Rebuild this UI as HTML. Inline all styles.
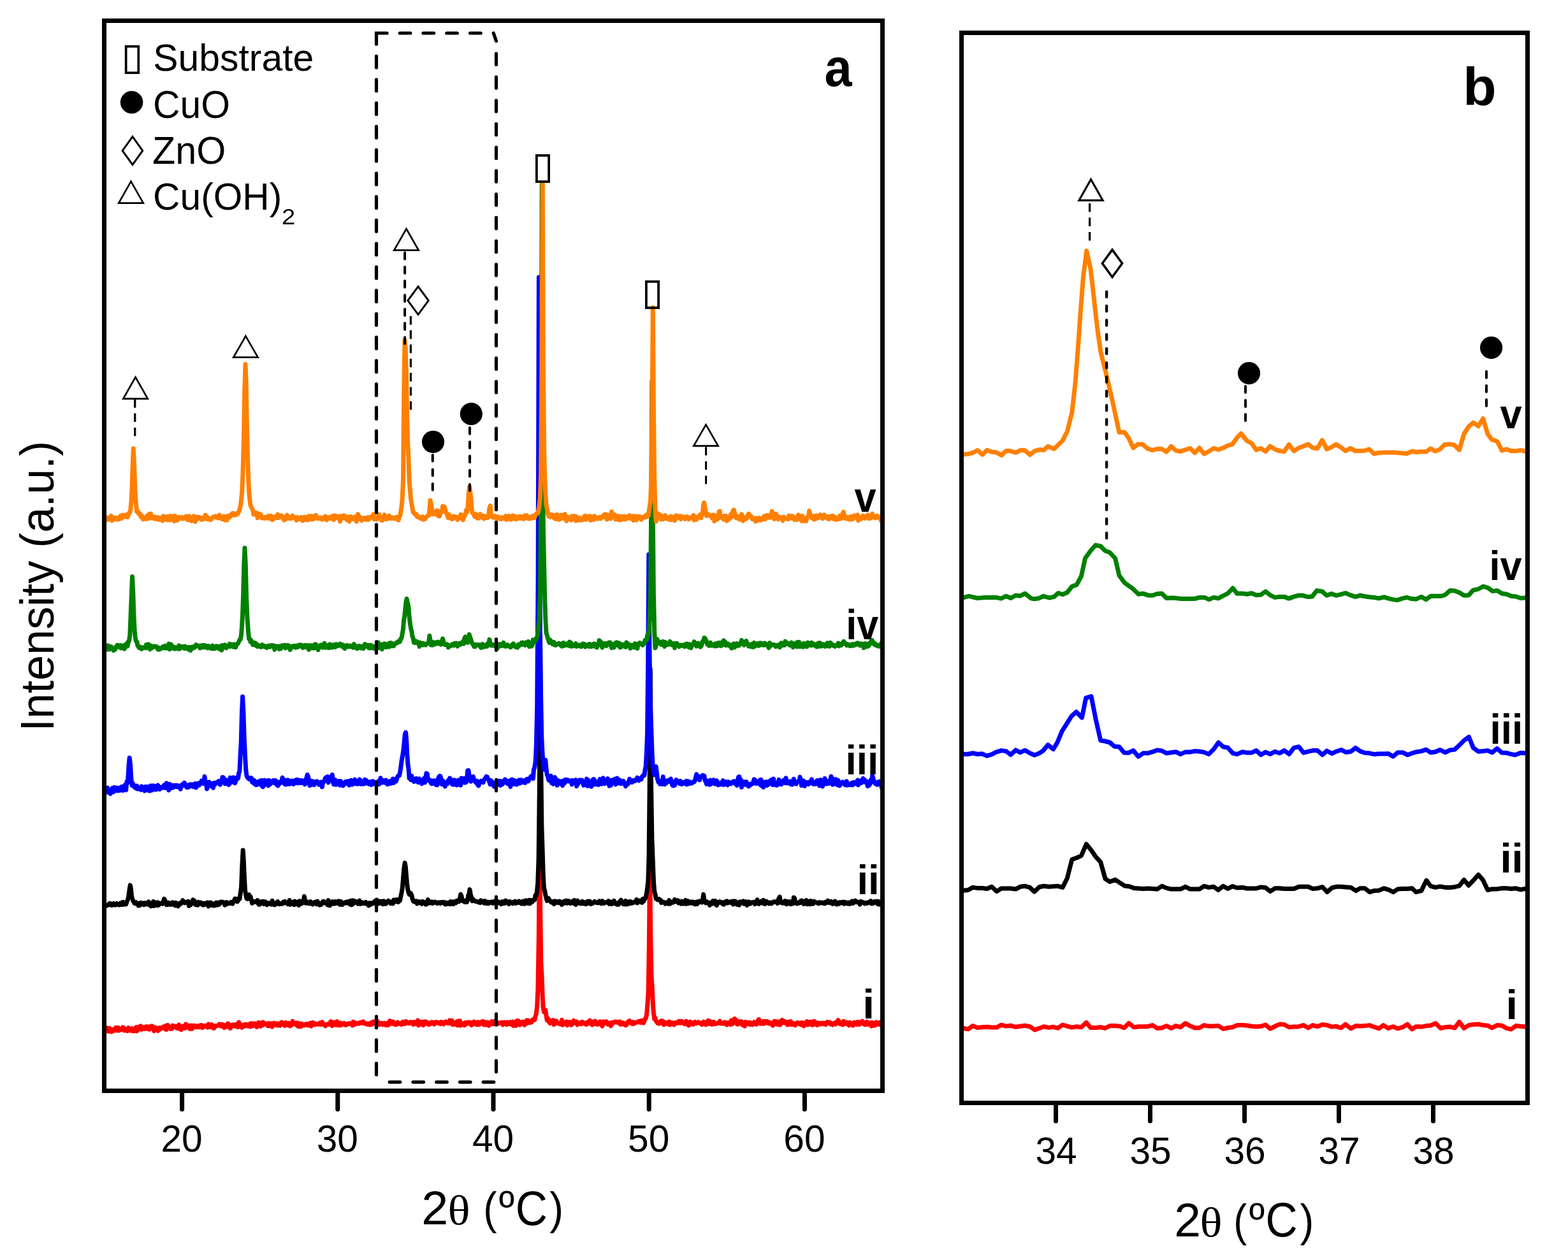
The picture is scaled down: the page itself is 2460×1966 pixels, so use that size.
<!DOCTYPE html>
<html lang="en">
<head>
<meta charset="utf-8">
<title>XRD patterns</title>
<style>
html,body{margin:0;padding:0;background:#fff;}
body{width:2460px;height:1966px;overflow:hidden;}
svg{display:block;}
text{font-family:"Liberation Sans", Arial, Helvetica, sans-serif;fill:#000;}
.b{font-weight:700;}
.s{font-family:"Liberation Serif", "DejaVu Serif", serif;}
</style>
</head>
<body>
<svg xmlns="http://www.w3.org/2000/svg" width="2460" height="1966" viewBox="0 0 2460 1966">
<rect x="0" y="0" width="2460" height="1966" fill="#fff"/>
<g id="panel-a-curves">
<path d="M163.5 1617.1L164.7 1610.9L165.9 1615.0L167.2 1618.1L168.4 1613.2L169.6 1615.5L170.8 1618.1L172.0 1613.2L173.3 1616.7L174.5 1618.7L175.7 1616.0L176.9 1618.1L178.2 1614.9L179.4 1614.3L180.6 1615.9L181.8 1612.4L183.0 1617.0L184.3 1615.0L185.5 1612.5L186.7 1616.9L187.9 1616.0L189.1 1614.2L190.4 1613.6L191.6 1615.4L192.8 1611.8L194.0 1612.5L195.2 1616.9L196.5 1615.2L197.7 1616.8L198.9 1614.9L200.1 1617.5L201.4 1612.6L202.6 1616.6L203.8 1616.2L205.0 1616.5L206.2 1617.3L207.5 1613.7L208.7 1614.4L209.9 1618.0L211.1 1616.6L212.3 1616.1L213.6 1611.7L214.8 1617.7L216.0 1615.1L217.2 1615.8L218.4 1610.9L219.7 1614.6L220.9 1609.8L222.1 1615.4L223.3 1613.9L224.6 1614.3L225.8 1612.0L227.0 1614.3L228.2 1613.4L229.4 1610.6L230.7 1614.1L231.9 1613.2L233.1 1610.8L234.3 1615.3L235.5 1610.9L236.8 1612.0L238.0 1609.9L239.2 1610.2L240.4 1614.0L241.6 1617.6L242.9 1612.1L244.1 1612.7L245.3 1612.5L246.5 1615.0L247.7 1617.4L249.0 1613.7L250.2 1612.7L251.4 1614.8L252.6 1614.2L253.9 1612.4L255.1 1613.0L256.3 1611.2L257.5 1612.9L258.7 1610.1L260.0 1615.3L261.2 1615.3L262.4 1608.6L263.6 1608.6L264.8 1610.8L266.1 1612.0L267.3 1614.3L268.5 1611.5L269.7 1614.1L270.9 1609.1L272.2 1611.5L273.4 1611.6L274.6 1609.9L275.8 1610.1L277.1 1613.0L278.3 1612.3L279.5 1613.5L280.7 1607.8L281.9 1614.6L283.2 1615.1L284.4 1615.6L285.6 1611.4L286.8 1610.2L288.0 1612.5L289.3 1611.7L290.5 1613.2L291.7 1606.9L292.9 1610.6L294.1 1611.7L295.4 1609.2L296.6 1609.1L297.8 1614.5L299.0 1612.1L300.3 1609.1L301.5 1614.2L302.7 1610.2L303.9 1609.1L305.1 1609.3L306.4 1609.6L307.6 1611.8L308.8 1610.6L310.0 1611.1L311.2 1609.7L312.5 1611.7L313.7 1609.1L314.9 1611.1L316.1 1608.4L317.3 1612.4L318.6 1611.7L319.8 1609.9L321.0 1610.7L322.2 1609.2L323.5 1609.4L324.7 1610.6L325.9 1612.1L327.1 1606.9L328.3 1609.4L329.6 1611.4L330.8 1607.8L332.0 1607.5L333.2 1611.8L334.4 1609.0L335.7 1613.4L336.9 1611.4L338.1 1610.0L339.3 1609.5L340.5 1609.4L341.8 1609.2L343.0 1608.8L344.2 1606.9L345.4 1608.5L346.7 1610.1L347.9 1607.4L349.1 1607.2L350.3 1607.9L351.5 1612.4L352.8 1611.9L354.0 1610.4L355.2 1608.2L356.4 1611.0L357.6 1605.8L358.9 1610.4L360.1 1609.3L361.3 1613.4L362.5 1610.2L363.7 1608.2L365.0 1609.4L366.2 1607.6L367.4 1609.7L368.6 1608.0L369.8 1610.3L371.1 1610.7L372.3 1606.7L373.5 1611.5L374.7 1604.0L376.0 1606.3L377.2 1610.2L378.4 1610.1L379.6 1612.3L380.8 1608.2L382.1 1608.4L383.3 1610.1L384.5 1607.4L385.7 1609.5L386.9 1607.3L388.2 1607.6L389.4 1610.0L390.6 1609.4L391.8 1606.7L393.0 1610.9L394.3 1605.6L395.5 1609.0L396.7 1609.7L397.9 1607.3L399.2 1605.8L400.4 1606.2L401.6 1608.5L402.8 1611.4L404.0 1607.6L405.3 1604.5L406.5 1607.0L407.7 1604.7L408.9 1610.4L410.1 1608.9L411.4 1608.8L412.6 1603.9L413.8 1604.7L415.0 1605.4L416.2 1607.3L417.5 1607.2L418.7 1606.6L419.9 1609.5L421.1 1605.5L422.4 1609.7L423.6 1608.7L424.8 1605.8L426.0 1606.7L427.2 1611.1L428.5 1608.2L429.7 1605.1L430.9 1607.2L432.1 1606.7L433.3 1608.6L434.6 1606.0L435.8 1608.8L437.0 1606.6L438.2 1606.1L439.4 1609.2L440.7 1607.8L441.9 1603.9L443.1 1607.4L444.3 1607.1L445.6 1607.7L446.8 1609.3L448.0 1604.3L449.2 1608.2L450.4 1606.3L451.7 1608.6L452.9 1605.3L454.1 1607.4L455.3 1609.9L456.5 1606.9L457.8 1608.4L459.0 1602.3L460.2 1604.8L461.4 1605.0L462.6 1606.4L463.9 1606.4L465.1 1608.2L466.3 1604.8L467.5 1610.5L468.8 1610.7L470.0 1605.6L471.2 1608.3L472.4 1610.4L473.6 1606.3L474.9 1607.3L476.1 1608.9L477.3 1609.1L478.5 1607.4L479.7 1606.7L481.0 1607.9L482.2 1606.7L483.4 1609.0L484.6 1606.5L485.8 1606.1L487.1 1605.3L488.3 1610.1L489.5 1606.0L490.7 1604.4L491.9 1607.8L493.2 1605.7L494.4 1607.9L495.6 1606.5L496.8 1606.8L498.1 1606.7L499.3 1607.3L500.5 1606.3L501.7 1605.0L502.9 1607.1L504.2 1607.5L505.4 1603.5L506.6 1605.8L507.8 1607.1L509.0 1608.0L510.3 1609.7L511.5 1608.3L512.7 1607.9L513.9 1606.7L515.1 1607.2L516.4 1606.4L517.6 1607.6L518.8 1602.7L520.0 1606.2L521.3 1609.6L522.5 1605.4L523.7 1603.9L524.9 1605.3L526.1 1606.2L527.4 1608.3L528.6 1602.7L529.8 1605.9L531.0 1608.7L532.2 1607.1L533.5 1604.8L534.7 1608.7L535.9 1606.5L537.1 1606.1L538.3 1606.4L539.6 1605.4L540.8 1608.1L542.0 1608.4L543.2 1606.7L544.5 1607.6L545.7 1606.4L546.9 1605.7L548.1 1606.5L549.3 1605.6L550.6 1606.1L551.8 1606.0L553.0 1608.9L554.2 1603.2L555.4 1605.4L556.7 1607.5L557.9 1604.9L559.1 1605.8L560.3 1606.1L561.5 1605.9L562.8 1606.3L564.0 1604.6L565.2 1605.2L566.4 1604.1L567.7 1605.3L568.9 1604.5L570.1 1603.0L571.3 1605.7L572.5 1606.1L573.8 1606.3L575.0 1606.1L576.2 1607.3L577.4 1606.5L578.6 1606.2L579.9 1607.9L581.1 1606.2L582.3 1604.4L583.5 1607.3L584.7 1606.1L586.0 1603.0L587.2 1605.1L588.4 1604.0L589.6 1606.6L590.9 1605.4L592.1 1602.3L593.3 1603.8L594.5 1608.0L595.7 1605.8L597.0 1606.0L598.2 1605.2L599.4 1605.9L600.6 1607.8L601.8 1606.4L603.1 1605.1L604.3 1605.8L605.5 1608.5L606.7 1606.7L607.9 1605.4L609.2 1608.5L610.4 1603.7L611.6 1601.6L612.8 1605.2L614.0 1606.0L615.3 1606.3L616.5 1603.1L617.7 1605.6L618.9 1604.9L620.2 1607.7L621.4 1607.5L622.6 1605.9L623.8 1604.0L625.0 1606.5L626.3 1605.8L627.5 1605.7L628.7 1606.1L629.9 1607.6L631.1 1604.1L632.4 1603.3L633.6 1606.1L634.8 1606.7L636.0 1605.8L637.2 1602.6L638.5 1605.3L639.7 1604.6L640.9 1605.6L642.1 1605.9L643.4 1603.6L644.6 1604.6L645.8 1603.9L647.0 1605.0L648.2 1607.3L649.5 1603.5L650.7 1606.2L651.9 1606.0L653.1 1603.8L654.3 1607.1L655.6 1601.0L656.8 1608.8L658.0 1607.8L659.2 1605.0L660.4 1603.6L661.7 1604.0L662.9 1603.4L664.1 1608.7L665.3 1603.3L666.6 1606.1L667.8 1602.8L669.0 1605.5L670.2 1606.3L671.4 1604.7L672.7 1607.5L673.9 1605.4L675.1 1606.7L676.3 1605.2L677.5 1603.6L678.8 1605.1L680.0 1606.2L681.2 1607.0L682.4 1604.5L683.6 1603.7L684.9 1605.0L686.1 1604.2L687.3 1605.2L688.5 1604.6L689.8 1605.9L691.0 1606.5L692.2 1603.5L693.4 1605.7L694.6 1604.3L695.9 1607.0L697.1 1603.9L698.3 1603.7L699.5 1602.9L700.7 1604.7L702.0 1605.3L703.2 1603.7L704.4 1605.3L705.6 1600.8L706.8 1605.5L708.1 1605.2L709.3 1601.4L710.5 1607.7L711.7 1606.1L713.0 1606.3L714.2 1607.3L715.4 1604.2L716.6 1603.0L717.8 1608.7L719.1 1604.1L720.3 1601.8L721.5 1601.7L722.7 1609.1L723.9 1605.5L725.2 1605.9L726.4 1605.7L727.6 1606.2L728.8 1608.9L730.0 1604.5L731.3 1607.2L732.5 1605.7L733.7 1604.5L734.9 1603.9L736.1 1605.2L737.4 1604.3L738.6 1607.2L739.8 1608.6L741.0 1606.3L742.3 1604.4L743.5 1603.0L744.7 1603.6L745.9 1607.0L747.1 1606.7L748.4 1607.8L749.6 1603.7L750.8 1605.3L752.0 1607.7L753.2 1606.0L754.5 1603.5L755.7 1603.8L756.9 1602.6L758.1 1603.0L759.3 1607.9L760.6 1603.3L761.8 1608.0L763.0 1607.4L764.2 1606.1L765.5 1603.9L766.7 1609.3L767.9 1607.0L769.1 1607.4L770.3 1605.5L771.6 1602.7L772.8 1606.4L774.0 1606.7L775.2 1602.9L776.4 1605.3L777.7 1605.8L778.9 1603.0L780.1 1605.6L781.3 1605.3L782.5 1606.1L783.8 1605.2L785.0 1604.6L786.2 1604.9L787.4 1604.4L788.7 1607.9L789.9 1606.0L791.1 1604.0L792.3 1605.0L793.5 1607.1L794.8 1607.6L796.0 1603.8L797.2 1606.7L798.4 1606.4L799.6 1606.3L800.9 1603.7L802.1 1607.5L803.3 1604.5L804.5 1603.2L805.7 1609.4L807.0 1606.0L808.2 1606.1L809.4 1609.4L810.6 1602.0L811.9 1603.8L813.1 1601.5L814.3 1604.2L815.5 1608.1L816.7 1605.9L818.0 1606.3L819.2 1603.6L820.4 1603.3L821.6 1603.1L822.8 1608.4L824.1 1604.7L825.3 1605.8L826.5 1600.9L827.7 1605.1L828.9 1601.2L830.2 1603.3L831.4 1604.6L832.6 1603.9L833.8 1603.9L835.1 1600.6L836.3 1599.5L837.5 1600.7L838.7 1600.4L839.9 1595.2L841.3 1590.2L842.6 1579.6L843.9 1552.4L845.3 1468.5L846.6 1300.0L847.7 1430.6L848.8 1510.2L849.9 1528.7L851.0 1560.0L852.1 1579.9L853.4 1587.7L854.6 1584.9L855.8 1585.0L857.0 1593.9L858.2 1600.6L859.5 1597.7L860.7 1602.7L861.9 1602.0L863.1 1605.7L864.4 1601.6L865.6 1603.0L866.8 1604.5L868.0 1600.5L869.2 1607.6L870.5 1606.0L871.7 1603.8L872.9 1602.0L874.1 1605.1L875.3 1605.8L876.6 1605.9L877.8 1606.0L879.0 1607.0L880.2 1606.6L881.4 1600.3L882.7 1608.2L883.9 1607.1L885.1 1604.0L886.3 1605.2L887.6 1606.7L888.8 1602.8L890.0 1608.6L891.2 1604.5L892.4 1605.3L893.7 1603.5L894.9 1605.6L896.1 1608.3L897.3 1607.6L898.5 1604.9L899.8 1601.4L901.0 1604.7L902.2 1603.8L903.4 1605.2L904.6 1603.0L905.9 1607.9L907.1 1606.2L908.3 1604.8L909.5 1604.8L910.8 1605.5L912.0 1606.8L913.2 1603.3L914.4 1604.3L915.6 1605.3L916.9 1604.8L918.1 1606.7L919.3 1605.2L920.5 1607.3L921.7 1604.1L923.0 1603.2L924.2 1604.9L925.4 1601.0L926.6 1604.2L927.8 1606.7L929.1 1608.0L930.3 1603.0L931.5 1605.1L932.7 1606.2L934.0 1602.1L935.2 1606.9L936.4 1606.5L937.6 1607.3L938.8 1607.1L940.1 1604.1L941.3 1603.0L942.5 1605.8L943.7 1606.0L944.9 1610.1L946.2 1603.0L947.4 1603.3L948.6 1605.4L949.8 1604.3L951.0 1602.7L952.3 1603.8L953.5 1607.2L954.7 1605.2L955.9 1606.6L957.2 1605.5L958.4 1609.7L959.6 1604.4L960.8 1606.5L962.0 1604.3L963.3 1603.7L964.5 1603.4L965.7 1603.1L966.9 1604.2L968.1 1604.1L969.4 1603.2L970.6 1603.7L971.8 1606.0L973.0 1603.1L974.2 1607.3L975.5 1606.7L976.7 1605.4L977.9 1604.8L979.1 1607.6L980.3 1607.6L981.6 1608.8L982.8 1608.0L984.0 1605.5L985.2 1603.1L986.5 1604.2L987.7 1601.7L988.9 1604.4L990.1 1604.5L991.3 1606.0L992.6 1603.7L993.8 1606.6L995.0 1606.0L996.2 1604.1L997.4 1604.6L998.7 1603.9L999.9 1604.1L1001.1 1603.3L1002.3 1602.3L1003.5 1602.8L1004.8 1604.5L1006.0 1601.5L1007.2 1601.2L1008.4 1602.0L1009.7 1605.0L1010.9 1601.4L1012.1 1598.6L1013.3 1597.6L1014.6 1591.9L1015.8 1576.7L1017.1 1557.5L1018.3 1484.3L1019.6 1350.0L1020.8 1469.2L1022.0 1532.5L1023.2 1548.3L1024.3 1574.9L1025.5 1589.6L1026.7 1598.7L1028.0 1597.3L1029.2 1602.0L1030.4 1603.5L1031.6 1605.4L1032.9 1604.4L1034.1 1606.1L1035.3 1604.3L1036.5 1602.2L1037.7 1601.7L1039.0 1605.5L1040.2 1602.3L1041.4 1607.8L1042.6 1606.5L1043.8 1605.5L1045.1 1604.3L1046.3 1604.9L1047.5 1606.7L1048.7 1605.7L1049.9 1603.2L1051.2 1608.0L1052.4 1605.0L1053.6 1604.3L1054.8 1605.4L1056.1 1605.1L1057.3 1608.0L1058.5 1605.6L1059.7 1604.6L1060.9 1605.4L1062.2 1605.8L1063.4 1603.4L1064.6 1602.4L1065.8 1604.2L1067.0 1605.4L1068.3 1602.3L1069.5 1602.5L1070.7 1604.4L1071.9 1605.5L1073.1 1606.2L1074.4 1603.5L1075.6 1606.7L1076.8 1602.3L1078.0 1604.7L1079.3 1605.0L1080.5 1608.9L1081.7 1606.9L1082.9 1603.1L1084.1 1606.5L1085.4 1604.8L1086.6 1605.4L1087.8 1607.3L1089.0 1604.9L1090.2 1603.4L1091.5 1605.1L1092.7 1605.9L1093.9 1605.3L1095.1 1603.8L1096.3 1604.7L1097.6 1604.9L1098.8 1605.2L1100.0 1606.7L1101.2 1607.4L1102.4 1604.8L1103.7 1603.2L1104.9 1606.1L1106.1 1604.0L1107.3 1607.8L1108.6 1606.0L1109.8 1606.5L1111.0 1601.2L1112.2 1605.0L1113.4 1606.4L1114.7 1602.7L1115.9 1605.0L1117.1 1607.4L1118.3 1606.4L1119.5 1603.3L1120.8 1606.8L1122.0 1606.5L1123.2 1606.5L1124.4 1605.8L1125.6 1605.7L1126.9 1604.7L1128.1 1604.1L1129.3 1602.1L1130.5 1606.0L1131.8 1605.8L1133.0 1605.1L1134.2 1606.0L1135.4 1606.2L1136.6 1603.8L1137.9 1605.1L1139.1 1606.2L1140.3 1608.0L1141.5 1604.7L1142.7 1605.6L1144.0 1604.2L1145.2 1604.2L1146.4 1607.6L1147.6 1600.9L1148.8 1606.9L1150.1 1603.6L1151.3 1602.2L1152.5 1598.3L1153.7 1599.4L1155.0 1604.9L1156.2 1606.8L1157.4 1607.1L1158.6 1602.4L1159.8 1605.3L1161.1 1605.9L1162.3 1606.1L1163.5 1602.7L1164.7 1608.0L1165.9 1607.0L1167.2 1605.2L1168.4 1610.1L1169.6 1603.4L1170.8 1604.9L1172.0 1605.0L1173.3 1606.4L1174.5 1604.2L1175.7 1604.2L1176.9 1607.4L1178.2 1605.0L1179.4 1607.1L1180.6 1607.9L1181.8 1604.9L1183.0 1603.7L1184.3 1604.5L1185.5 1606.3L1186.7 1607.3L1187.9 1605.6L1189.1 1601.3L1190.4 1599.4L1191.6 1601.8L1192.8 1606.2L1194.0 1603.8L1195.2 1605.8L1196.5 1606.1L1197.7 1602.6L1198.9 1606.2L1200.1 1602.3L1201.4 1602.6L1202.6 1603.9L1203.8 1602.7L1205.0 1605.6L1206.2 1606.0L1207.5 1604.3L1208.7 1604.8L1209.9 1606.7L1211.1 1605.9L1212.3 1609.1L1213.6 1607.8L1214.8 1602.2L1216.0 1604.8L1217.2 1603.8L1218.4 1602.9L1219.7 1607.3L1220.9 1605.3L1222.1 1603.2L1223.3 1608.0L1224.5 1607.5L1225.8 1601.9L1227.0 1600.5L1228.2 1601.4L1229.4 1604.7L1230.7 1602.4L1231.9 1604.7L1233.1 1605.8L1234.3 1604.0L1235.5 1608.0L1236.8 1603.6L1238.0 1605.9L1239.2 1605.9L1240.4 1602.5L1241.6 1607.6L1242.9 1605.8L1244.1 1607.3L1245.3 1605.8L1246.5 1606.1L1247.7 1608.7L1249.0 1605.5L1250.2 1606.1L1251.4 1604.5L1252.6 1606.0L1253.9 1605.2L1255.1 1605.4L1256.3 1607.8L1257.5 1604.5L1258.7 1605.5L1260.0 1604.8L1261.2 1609.9L1262.4 1605.4L1263.6 1604.8L1264.8 1605.7L1266.1 1602.7L1267.3 1608.2L1268.5 1603.7L1269.7 1603.9L1270.9 1606.6L1272.2 1603.3L1273.4 1608.0L1274.6 1605.9L1275.8 1608.0L1277.1 1602.2L1278.3 1605.1L1279.5 1606.4L1280.7 1604.1L1281.9 1608.5L1283.2 1605.9L1284.4 1605.0L1285.6 1605.9L1286.8 1607.1L1288.0 1605.5L1289.3 1605.6L1290.5 1605.0L1291.7 1606.5L1292.9 1605.6L1294.1 1605.4L1295.4 1607.7L1296.6 1605.0L1297.8 1603.6L1299.0 1605.1L1300.3 1604.5L1301.5 1603.9L1302.7 1606.7L1303.9 1605.5L1305.1 1605.6L1306.4 1608.0L1307.6 1606.6L1308.8 1605.9L1310.0 1604.7L1311.2 1607.0L1312.5 1603.8L1313.7 1603.7L1314.9 1600.6L1316.1 1602.2L1317.3 1606.1L1318.6 1606.7L1319.8 1605.4L1321.0 1606.2L1322.2 1607.9L1323.5 1602.4L1324.7 1606.0L1325.9 1606.4L1327.1 1606.3L1328.3 1604.2L1329.6 1604.9L1330.8 1605.2L1332.0 1608.9L1333.2 1604.2L1334.4 1607.0L1335.7 1607.5L1336.9 1605.5L1338.1 1609.1L1339.3 1605.2L1340.5 1604.1L1341.8 1604.8L1343.0 1606.0L1344.2 1607.2L1345.4 1603.6L1346.6 1603.8L1347.9 1607.5L1349.1 1606.7L1350.3 1604.4L1351.5 1603.3L1352.8 1602.3L1354.0 1603.7L1355.2 1607.0L1356.4 1604.4L1357.6 1607.8L1358.9 1605.8L1360.1 1603.2L1361.3 1607.4L1362.5 1605.8L1363.7 1605.6L1365.0 1607.0L1366.2 1604.6L1367.4 1610.2L1368.6 1604.5L1369.8 1605.4L1371.1 1605.6L1372.3 1609.1L1373.5 1606.3L1374.7 1603.9L1376.0 1607.5L1377.2 1605.3L1378.4 1605.5L1379.6 1604.4L1380.8 1608.0L1382.1 1606.5L1383.3 1604.6L1384.5 1605.1" fill="none" stroke="#FF0000" stroke-width="7.0" stroke-linejoin="round" stroke-linecap="butt" />
<path d="M163.5 1421.7L164.7 1419.4L165.9 1419.7L167.2 1421.1L168.4 1420.6L169.6 1420.1L170.8 1418.5L172.0 1417.4L173.3 1419.7L174.5 1418.2L175.7 1420.4L176.9 1419.4L178.2 1417.7L179.4 1419.4L180.6 1420.1L181.8 1419.2L183.0 1417.5L184.3 1419.3L185.5 1419.4L186.7 1420.1L187.9 1419.9L189.1 1417.0L190.4 1417.6L191.6 1419.3L192.8 1415.3L194.0 1419.2L195.2 1416.2L196.5 1416.5L197.7 1418.9L199.0 1415.1L200.3 1412.0L201.7 1407.1L203.0 1396.3L204.3 1388.9L205.4 1394.1L206.5 1406.0L207.7 1410.4L208.8 1413.4L209.9 1415.2L211.1 1417.4L212.3 1417.8L213.6 1415.8L214.8 1418.4L216.0 1417.9L217.2 1420.9L218.4 1417.7L219.7 1420.3L220.9 1416.3L222.1 1418.8L223.3 1417.1L224.6 1416.9L225.8 1419.7L227.0 1416.8L228.2 1418.2L229.4 1417.3L230.7 1419.1L231.9 1418.9L233.1 1414.8L234.3 1419.7L235.5 1417.4L236.8 1421.9L238.0 1420.0L239.2 1420.1L240.4 1414.5L241.6 1421.4L242.9 1418.6L244.1 1416.2L245.3 1419.0L246.5 1420.6L247.7 1415.8L249.0 1420.2L250.2 1417.9L251.4 1417.4L252.6 1417.6L253.9 1416.8L255.1 1418.1L256.3 1415.6L257.5 1410.3L258.7 1412.2L260.0 1415.5L261.2 1419.7L262.4 1416.2L263.6 1419.3L264.8 1416.4L266.1 1417.3L267.3 1419.3L268.5 1417.1L269.7 1419.1L270.9 1415.9L272.2 1417.1L273.4 1419.1L274.6 1420.7L275.8 1416.3L277.1 1420.8L278.3 1418.6L279.5 1421.9L280.7 1417.6L281.9 1417.2L283.2 1418.5L284.4 1415.8L285.6 1416.1L286.8 1412.7L288.0 1415.1L289.3 1416.5L290.5 1415.5L291.7 1415.7L292.9 1416.4L294.1 1414.6L295.4 1414.4L296.6 1421.4L297.8 1416.5L299.0 1420.0L300.3 1416.5L301.5 1416.3L302.7 1411.7L303.9 1414.1L305.1 1413.4L306.4 1419.5L307.6 1416.4L308.8 1419.9L310.0 1420.3L311.2 1415.3L312.5 1418.6L313.7 1416.1L314.9 1415.9L316.1 1418.0L317.3 1419.2L318.6 1420.1L319.8 1417.2L321.0 1419.5L322.2 1418.7L323.5 1417.8L324.7 1416.2L325.9 1417.8L327.1 1422.1L328.3 1416.2L329.6 1417.4L330.8 1416.2L332.0 1420.0L333.2 1420.7L334.4 1419.9L335.7 1420.9L336.9 1417.5L338.1 1420.4L339.3 1416.2L340.5 1420.1L341.8 1420.0L343.0 1416.4L344.2 1419.1L345.4 1415.6L346.7 1415.1L347.9 1415.0L349.1 1415.5L350.3 1415.4L351.5 1417.1L352.8 1420.2L354.0 1416.8L355.2 1415.7L356.4 1418.3L357.6 1416.6L358.9 1417.1L360.1 1417.6L361.3 1417.5L362.5 1415.5L363.7 1416.1L365.0 1417.9L366.2 1415.0L367.4 1413.1L368.6 1410.1L369.8 1410.2L371.1 1412.1L372.3 1414.7L373.5 1413.2L374.7 1409.6L376.0 1410.2L377.3 1401.2L378.6 1391.6L379.9 1357.7L381.2 1334.0L382.3 1351.3L383.5 1379.1L384.6 1397.2L385.8 1404.5L386.9 1409.9L388.2 1410.5L389.4 1408.3L390.6 1403.7L391.8 1407.8L393.0 1406.9L394.3 1412.3L395.5 1417.3L396.7 1415.8L397.9 1415.7L399.2 1414.5L400.4 1414.7L401.6 1415.1L402.8 1414.0L404.0 1412.6L405.3 1418.3L406.5 1419.4L407.7 1415.6L408.9 1418.0L410.1 1414.6L411.4 1417.3L412.6 1414.4L413.8 1418.3L415.0 1416.9L416.2 1414.7L417.5 1417.8L418.7 1419.7L419.9 1416.9L421.1 1416.8L422.4 1416.9L423.6 1417.1L424.8 1419.0L426.0 1419.1L427.2 1413.3L428.5 1419.0L429.7 1416.6L430.9 1419.8L432.1 1417.7L433.3 1418.6L434.6 1416.0L435.8 1414.6L437.0 1417.3L438.2 1418.6L439.4 1418.2L440.7 1418.3L441.9 1417.3L443.1 1418.1L444.3 1415.5L445.6 1416.7L446.8 1414.3L448.0 1416.8L449.2 1416.4L450.4 1417.0L451.7 1418.7L452.9 1417.0L454.1 1412.5L455.3 1419.2L456.5 1417.2L457.8 1418.2L459.0 1415.5L460.2 1418.3L461.4 1419.5L462.6 1414.1L463.9 1419.0L465.1 1415.3L466.3 1415.5L467.5 1416.8L468.8 1420.4L470.0 1413.7L471.2 1415.7L472.4 1416.8L473.6 1417.7L474.9 1416.0L476.1 1414.3L477.3 1406.5L478.5 1412.1L479.7 1417.1L481.0 1414.6L482.2 1415.3L483.4 1417.4L484.6 1417.3L485.8 1417.7L487.1 1414.7L488.3 1416.1L489.5 1416.0L490.7 1419.1L491.9 1416.6L493.2 1415.9L494.4 1415.2L495.6 1416.8L496.8 1418.8L498.1 1414.1L499.3 1417.0L500.5 1417.7L501.7 1420.2L502.9 1417.9L504.2 1419.1L505.4 1416.8L506.6 1414.4L507.8 1414.3L509.0 1415.5L510.3 1417.0L511.5 1416.3L512.7 1415.9L513.9 1419.8L515.1 1412.6L516.4 1414.9L517.6 1420.8L518.8 1417.2L520.0 1415.6L521.3 1414.8L522.5 1418.1L523.7 1417.9L524.9 1418.1L526.1 1414.5L527.4 1416.9L528.6 1416.3L529.8 1417.4L531.0 1413.9L532.2 1417.7L533.5 1419.3L534.7 1414.3L535.9 1418.2L537.1 1419.5L538.3 1418.2L539.6 1416.6L540.8 1416.9L542.0 1415.7L543.2 1417.0L544.5 1414.8L545.7 1416.7L546.9 1415.2L548.1 1414.1L549.3 1419.2L550.6 1413.4L551.8 1419.7L553.0 1412.8L554.2 1418.2L555.4 1416.9L556.7 1413.8L557.9 1415.7L559.1 1414.8L560.3 1414.9L561.5 1418.1L562.8 1414.5L564.0 1413.2L565.2 1418.5L566.4 1417.2L567.7 1416.5L568.9 1416.0L570.1 1417.7L571.3 1417.1L572.5 1416.3L573.8 1415.5L575.0 1418.3L576.2 1419.0L577.4 1417.3L578.6 1420.9L579.9 1416.8L581.1 1416.8L582.3 1419.0L583.5 1416.9L584.7 1416.9L586.0 1415.8L587.2 1417.2L588.4 1413.5L589.6 1415.1L590.9 1414.5L592.1 1412.6L593.3 1418.2L594.5 1415.7L595.7 1414.8L597.0 1416.9L598.2 1414.1L599.4 1417.8L600.6 1418.6L601.8 1413.7L603.1 1418.2L604.3 1416.4L605.5 1418.0L606.7 1416.4L607.9 1414.5L609.2 1413.2L610.4 1413.9L611.6 1414.9L612.8 1417.5L614.0 1416.7L615.3 1416.0L616.5 1417.9L617.7 1412.0L618.9 1413.0L620.2 1412.8L621.4 1414.6L622.6 1411.3L623.8 1412.7L625.0 1415.4L626.3 1413.8L627.5 1413.2L628.7 1406.9L630.0 1400.7L631.3 1393.5L632.6 1377.1L633.9 1362.2L635.2 1353.9L636.3 1360.0L637.5 1374.0L638.6 1386.6L639.8 1395.7L640.9 1399.8L642.1 1403.4L643.4 1401.0L644.6 1401.6L645.8 1404.9L647.0 1410.0L648.2 1413.7L649.5 1414.8L650.7 1414.2L651.9 1415.5L653.1 1413.8L654.3 1417.8L655.6 1415.4L656.8 1414.7L658.0 1416.5L659.2 1415.2L660.4 1416.1L661.7 1418.2L662.9 1414.3L664.1 1415.3L665.3 1415.5L666.6 1415.9L667.8 1419.1L669.0 1417.5L670.2 1418.2L671.4 1411.6L672.7 1416.8L673.9 1416.5L675.1 1417.0L676.3 1416.1L677.5 1414.9L678.8 1417.3L680.0 1415.7L681.2 1416.1L682.4 1415.1L683.6 1415.7L684.9 1417.0L686.1 1417.5L687.3 1416.0L688.5 1416.2L689.8 1415.8L691.0 1417.6L692.2 1415.4L693.4 1415.6L694.6 1416.3L695.9 1415.4L697.1 1416.6L698.3 1418.9L699.5 1416.1L700.7 1418.6L702.0 1417.7L703.2 1416.4L704.4 1417.3L705.6 1418.6L706.8 1414.6L708.1 1417.3L709.3 1418.2L710.5 1414.8L711.7 1418.3L713.0 1417.1L714.2 1414.6L715.4 1416.7L716.6 1413.3L717.8 1413.5L719.1 1412.7L720.3 1414.6L721.5 1409.8L722.7 1403.2L723.9 1405.5L725.2 1411.9L726.4 1413.8L727.6 1414.1L728.8 1415.2L730.0 1413.1L731.3 1413.4L732.4 1415.5L733.6 1412.4L734.7 1404.8L735.9 1402.8L737.0 1395.6L738.3 1403.3L739.6 1408.2L740.9 1413.6L742.2 1410.6L743.5 1413.2L744.7 1413.8L745.9 1414.3L747.1 1414.1L748.4 1414.5L749.6 1415.4L750.8 1414.7L752.0 1415.5L753.2 1416.4L754.5 1412.8L755.7 1415.5L756.9 1414.2L758.1 1415.7L759.3 1417.0L760.6 1413.6L761.8 1415.3L763.0 1417.5L764.2 1417.8L765.5 1415.1L766.7 1417.5L767.9 1416.5L769.1 1416.1L770.3 1415.1L771.6 1416.5L772.8 1417.2L774.0 1414.9L775.2 1416.8L776.4 1414.0L777.7 1414.0L778.9 1416.9L780.1 1415.6L781.3 1414.6L782.5 1416.6L783.8 1417.2L785.0 1416.1L786.2 1418.5L787.4 1414.8L788.7 1414.9L789.9 1417.5L791.1 1414.3L792.3 1417.2L793.5 1413.2L794.8 1414.3L796.0 1415.6L797.2 1415.2L798.4 1418.5L799.6 1414.3L800.9 1415.8L802.1 1416.1L803.3 1415.7L804.5 1417.8L805.7 1414.9L807.0 1414.9L808.2 1414.1L809.4 1417.3L810.6 1416.2L811.9 1416.2L813.1 1416.0L814.3 1413.8L815.5 1416.5L816.7 1416.1L818.0 1417.9L819.2 1416.2L820.4 1414.1L821.6 1414.8L822.8 1418.3L824.1 1413.1L825.3 1412.8L826.5 1415.3L827.7 1417.2L828.9 1414.7L830.2 1412.4L831.4 1417.8L832.6 1412.4L833.8 1414.7L835.1 1415.1L836.3 1412.1L837.5 1411.9L838.7 1411.9L839.9 1405.0L841.2 1405.0L842.4 1399.1L843.7 1386.0L845.0 1350.0L846.3 1240.7L847.6 1000.0L848.8 1201.9L849.9 1297.5L851.1 1333.9L852.2 1371.5L853.4 1393.7L854.6 1397.3L855.8 1404.4L857.0 1409.2L858.2 1413.3L859.5 1410.4L860.7 1409.5L861.9 1412.1L863.1 1413.5L864.4 1415.4L865.6 1416.2L866.8 1415.7L868.0 1414.6L869.2 1418.4L870.5 1413.9L871.7 1415.2L872.9 1416.3L874.1 1414.5L875.3 1415.1L876.6 1416.6L877.8 1414.1L879.0 1415.3L880.2 1415.4L881.4 1419.5L882.7 1417.1L883.9 1414.7L885.1 1417.1L886.3 1414.1L887.6 1416.6L888.8 1413.2L890.0 1417.2L891.2 1415.7L892.4 1413.8L893.7 1416.7L894.9 1417.4L896.1 1416.7L897.3 1416.4L898.5 1413.9L899.8 1417.4L901.0 1412.5L902.2 1415.1L903.4 1419.4L904.6 1413.8L905.9 1413.1L907.1 1414.6L908.3 1416.7L909.5 1416.0L910.8 1417.8L912.0 1416.2L913.2 1414.4L914.4 1417.7L915.6 1415.2L916.9 1417.2L918.1 1418.4L919.3 1417.0L920.5 1418.3L921.7 1414.1L923.0 1415.5L924.2 1416.5L925.4 1414.2L926.6 1418.4L927.8 1418.2L929.1 1417.0L930.3 1417.2L931.5 1416.0L932.7 1414.4L934.0 1415.2L935.2 1415.8L936.4 1416.6L937.6 1416.0L938.8 1416.7L940.1 1414.0L941.3 1415.0L942.5 1416.5L943.7 1417.8L944.9 1413.5L946.2 1416.8L947.4 1417.4L948.6 1416.1L949.8 1416.3L951.0 1415.5L952.3 1416.1L953.5 1415.6L954.7 1413.7L955.9 1418.4L957.2 1416.7L958.4 1415.3L959.6 1418.4L960.8 1415.7L962.0 1417.2L963.3 1413.4L964.5 1415.2L965.7 1417.9L966.9 1418.6L968.1 1419.3L969.4 1418.5L970.6 1419.1L971.8 1415.0L973.0 1413.8L974.2 1412.1L975.5 1416.3L976.7 1415.7L977.9 1418.6L979.1 1415.7L980.3 1418.8L981.6 1413.4L982.8 1419.0L984.0 1415.9L985.2 1418.3L986.5 1417.6L987.7 1414.5L988.9 1417.4L990.1 1414.8L991.3 1417.3L992.6 1416.7L993.8 1416.4L995.0 1415.4L996.2 1415.1L997.4 1415.6L998.7 1411.3L999.9 1416.9L1001.1 1414.9L1002.3 1415.3L1003.5 1413.1L1004.8 1414.9L1006.0 1413.3L1007.2 1416.3L1008.4 1410.6L1009.7 1414.3L1010.9 1409.8L1012.1 1410.1L1013.3 1406.6L1014.5 1401.2L1015.7 1392.4L1016.8 1383.0L1018.0 1344.5L1019.1 1240.7L1020.3 1050.0L1021.6 1235.3L1022.9 1316.9L1024.2 1350.0L1025.5 1384.4L1026.7 1398.8L1028.0 1403.3L1029.2 1410.2L1030.4 1410.4L1031.6 1411.9L1032.9 1412.1L1034.1 1410.7L1035.3 1412.0L1036.5 1412.3L1037.7 1416.4L1039.0 1414.6L1040.2 1415.6L1041.4 1415.7L1042.6 1415.8L1043.8 1418.1L1045.1 1416.8L1046.3 1416.0L1047.5 1415.8L1048.7 1418.1L1049.9 1412.6L1051.2 1418.0L1052.4 1414.9L1053.6 1416.6L1054.8 1415.4L1056.1 1415.9L1057.3 1415.5L1058.5 1411.3L1059.7 1414.0L1060.9 1414.6L1062.2 1413.7L1063.4 1412.8L1064.6 1416.9L1065.8 1414.2L1067.0 1416.2L1068.3 1418.0L1069.5 1414.2L1070.7 1415.7L1071.9 1418.0L1073.1 1415.5L1074.4 1415.4L1075.6 1412.4L1076.8 1418.3L1078.0 1415.6L1079.3 1413.8L1080.5 1417.5L1081.7 1415.3L1082.9 1415.9L1084.1 1414.9L1085.4 1417.3L1086.6 1417.2L1087.8 1415.2L1089.0 1416.1L1090.2 1418.7L1091.5 1416.3L1092.7 1415.2L1093.9 1418.4L1095.1 1414.9L1096.3 1416.1L1097.6 1413.9L1098.8 1414.4L1100.0 1414.7L1101.2 1415.9L1102.4 1412.2L1103.7 1403.4L1104.9 1412.6L1106.1 1415.0L1107.3 1416.9L1108.6 1414.6L1109.8 1416.4L1111.0 1415.8L1112.2 1416.3L1113.4 1420.3L1114.7 1416.6L1115.9 1418.5L1117.1 1417.9L1118.3 1413.5L1119.5 1416.8L1120.8 1418.0L1122.0 1413.5L1123.2 1414.8L1124.4 1420.5L1125.6 1416.3L1126.9 1415.4L1128.1 1416.2L1129.3 1414.7L1130.5 1416.4L1131.8 1416.6L1133.0 1415.7L1134.2 1418.6L1135.4 1419.1L1136.6 1418.0L1137.9 1414.9L1139.1 1415.3L1140.3 1413.9L1141.5 1416.9L1142.7 1415.4L1144.0 1415.3L1145.2 1415.0L1146.4 1416.6L1147.6 1416.5L1148.8 1414.2L1150.1 1418.8L1151.3 1416.5L1152.5 1413.9L1153.7 1417.7L1155.0 1414.7L1156.2 1419.3L1157.4 1418.5L1158.6 1417.1L1159.8 1420.2L1161.1 1414.7L1162.3 1416.7L1163.5 1415.8L1164.7 1414.7L1165.9 1414.0L1167.2 1418.1L1168.4 1415.8L1169.6 1414.6L1170.8 1415.3L1172.0 1420.6L1173.3 1416.3L1174.5 1415.0L1175.7 1415.8L1176.9 1418.2L1178.2 1416.0L1179.4 1415.9L1180.6 1416.1L1181.8 1415.3L1183.0 1415.8L1184.3 1418.6L1185.5 1415.8L1186.7 1416.1L1187.9 1411.7L1189.1 1417.4L1190.4 1418.3L1191.6 1415.0L1192.8 1417.0L1194.0 1414.3L1195.2 1416.7L1196.5 1416.8L1197.7 1412.4L1198.9 1418.0L1200.1 1418.4L1201.4 1415.9L1202.6 1414.3L1203.8 1416.2L1205.0 1415.9L1206.2 1417.8L1207.5 1416.1L1208.7 1415.9L1209.9 1417.9L1211.1 1417.3L1212.3 1416.3L1213.6 1415.0L1214.8 1414.8L1216.0 1415.0L1217.2 1414.7L1218.4 1415.3L1219.7 1417.4L1220.9 1412.5L1222.1 1409.2L1223.3 1407.2L1224.5 1415.9L1225.8 1415.0L1227.0 1417.1L1228.2 1417.0L1229.4 1415.0L1230.7 1417.0L1231.9 1413.6L1233.1 1415.0L1234.3 1418.7L1235.5 1414.6L1236.8 1416.9L1238.0 1416.2L1239.2 1414.8L1240.4 1418.6L1241.6 1415.8L1242.9 1417.0L1244.1 1417.8L1245.3 1408.3L1246.5 1409.3L1247.7 1414.4L1249.0 1415.1L1250.2 1417.9L1251.4 1417.2L1252.6 1416.5L1253.9 1417.0L1255.1 1414.8L1256.3 1413.5L1257.5 1413.1L1258.7 1416.7L1260.0 1414.5L1261.2 1418.5L1262.4 1414.1L1263.6 1413.2L1264.8 1412.7L1266.1 1418.6L1267.3 1416.3L1268.5 1417.1L1269.7 1414.1L1270.9 1418.8L1272.2 1413.6L1273.4 1416.1L1274.6 1415.4L1275.8 1418.0L1277.1 1414.2L1278.3 1415.5L1279.5 1415.6L1280.7 1416.1L1281.9 1416.2L1283.2 1417.4L1284.4 1417.8L1285.6 1415.6L1286.8 1415.9L1288.0 1416.5L1289.3 1416.9L1290.5 1416.0L1291.7 1417.1L1292.9 1416.7L1294.1 1417.6L1295.4 1415.1L1296.6 1416.6L1297.8 1415.2L1299.0 1413.2L1300.3 1415.0L1301.5 1416.5L1302.7 1415.3L1303.9 1414.5L1305.1 1417.4L1306.4 1418.3L1307.6 1417.4L1308.8 1417.4L1310.0 1414.0L1311.2 1417.2L1312.5 1419.0L1313.7 1418.5L1314.9 1416.4L1316.1 1418.2L1317.3 1415.8L1318.6 1415.7L1319.8 1417.0L1321.0 1417.0L1322.2 1415.2L1323.5 1415.9L1324.7 1418.1L1325.9 1415.4L1327.1 1416.5L1328.3 1416.8L1329.6 1417.9L1330.8 1416.1L1332.0 1416.7L1333.2 1418.3L1334.4 1415.4L1335.7 1415.2L1336.9 1413.9L1338.1 1417.5L1339.3 1415.4L1340.5 1415.3L1341.8 1413.2L1343.0 1415.5L1344.2 1414.6L1345.4 1415.7L1346.6 1415.7L1347.9 1416.3L1349.1 1419.0L1350.3 1414.4L1351.5 1416.1L1352.8 1415.3L1354.0 1415.7L1355.2 1416.5L1356.4 1417.7L1357.6 1416.4L1358.9 1416.6L1360.1 1417.4L1361.3 1416.5L1362.5 1415.6L1363.7 1416.3L1365.0 1416.5L1366.2 1413.7L1367.4 1417.6L1368.6 1416.6L1369.8 1417.5L1371.1 1416.7L1372.3 1414.3L1373.5 1415.3L1374.7 1416.3L1376.0 1414.3L1377.2 1418.4L1378.4 1414.4L1379.6 1419.1L1380.8 1416.9L1382.1 1417.3L1383.3 1414.4L1384.5 1415.9" fill="none" stroke="#000000" stroke-width="7.0" stroke-linejoin="round" stroke-linecap="butt" />
<path d="M163.5 1242.0L164.7 1239.2L165.9 1242.4L167.2 1240.7L168.4 1236.0L169.6 1243.3L170.8 1240.1L172.0 1242.0L173.3 1245.5L174.5 1240.8L175.7 1236.8L176.9 1237.9L178.2 1242.7L179.4 1235.4L180.6 1240.3L181.8 1240.5L183.0 1236.0L184.3 1239.7L185.5 1240.6L186.7 1236.6L187.9 1237.3L189.1 1240.1L190.4 1234.5L191.6 1235.4L192.8 1240.4L194.0 1237.4L195.2 1232.4L196.5 1235.6L197.7 1239.6L198.8 1227.1L199.9 1228.7L201.0 1218.4L202.1 1199.6L203.2 1188.9L204.5 1199.8L205.9 1222.7L207.2 1232.6L208.6 1229.4L209.9 1233.3L211.1 1235.3L212.3 1233.7L213.6 1236.9L214.8 1233.2L216.0 1238.0L217.2 1235.6L218.4 1236.4L219.7 1237.9L220.9 1239.3L222.1 1233.7L223.3 1238.8L224.6 1239.1L225.8 1236.2L227.0 1240.9L228.2 1234.2L229.4 1234.8L230.7 1237.4L231.9 1234.3L233.1 1240.2L234.3 1236.7L235.5 1241.0L236.8 1232.9L238.0 1233.2L239.2 1239.7L240.4 1232.7L241.6 1238.8L242.9 1233.3L244.1 1236.3L245.3 1238.9L246.5 1235.2L247.7 1232.0L249.0 1233.8L250.2 1238.5L251.4 1235.7L252.6 1237.1L253.9 1235.2L255.1 1235.7L256.3 1234.3L257.5 1231.8L258.7 1236.3L260.0 1235.1L261.2 1228.8L262.4 1234.5L263.6 1237.2L264.8 1239.9L266.1 1230.3L267.3 1234.5L268.5 1235.7L269.7 1236.2L270.9 1232.0L272.2 1235.4L273.4 1232.6L274.6 1233.6L275.8 1232.1L277.1 1234.5L278.3 1232.4L279.5 1234.4L280.7 1233.2L281.9 1236.0L283.2 1238.1L284.4 1233.0L285.6 1231.0L286.8 1232.4L288.0 1231.4L289.3 1228.1L290.5 1232.9L291.7 1231.3L292.9 1235.3L294.1 1232.2L295.4 1235.2L296.6 1234.7L297.8 1230.9L299.0 1231.4L300.3 1230.7L301.5 1230.8L302.7 1234.5L303.9 1230.5L305.1 1230.7L306.4 1229.5L307.6 1235.8L308.8 1230.6L310.0 1231.2L311.2 1229.0L312.5 1232.1L313.7 1229.0L314.9 1229.2L316.1 1225.1L317.3 1225.8L318.6 1229.4L319.8 1227.1L321.0 1218.4L322.2 1227.4L323.5 1230.2L324.7 1237.9L325.9 1227.5L327.1 1228.4L328.3 1227.3L329.6 1232.7L330.8 1233.2L332.0 1229.3L333.2 1234.4L334.4 1236.1L335.7 1228.5L336.9 1231.4L338.1 1229.1L339.3 1227.8L340.5 1228.2L341.8 1228.7L343.0 1225.5L344.2 1228.9L345.4 1231.2L346.7 1225.8L347.9 1225.3L349.1 1219.5L350.3 1219.9L351.5 1222.7L352.8 1229.6L354.0 1227.1L355.2 1223.9L356.4 1229.8L357.6 1227.2L358.9 1231.3L360.1 1229.9L361.3 1220.1L362.5 1221.7L363.7 1227.2L365.0 1224.6L366.2 1219.8L367.4 1224.3L368.6 1228.8L369.8 1226.0L371.1 1220.3L372.3 1221.9L373.5 1221.3L374.7 1213.0L375.9 1209.9L377.1 1185.4L378.3 1163.3L379.4 1119.9L380.6 1092.9L381.9 1116.6L383.1 1156.6L384.4 1184.0L385.7 1206.9L386.9 1216.7L388.2 1219.9L389.4 1221.1L390.6 1222.4L391.8 1220.7L393.0 1222.4L394.3 1220.8L395.5 1226.9L396.7 1223.3L397.9 1228.7L399.2 1224.6L400.4 1230.9L401.6 1231.5L402.8 1231.5L404.0 1230.5L405.3 1226.4L406.5 1226.5L407.7 1225.3L408.9 1228.5L410.1 1232.4L411.4 1224.4L412.6 1234.7L413.8 1226.0L415.0 1224.3L416.2 1228.7L417.5 1230.8L418.7 1226.7L419.9 1224.8L421.1 1232.8L422.4 1224.5L423.6 1230.6L424.8 1228.2L426.0 1226.7L427.2 1227.9L428.5 1224.6L429.7 1224.5L430.9 1228.6L432.1 1224.7L433.3 1225.5L434.6 1231.9L435.8 1232.9L437.0 1230.9L438.2 1230.2L439.4 1226.9L440.7 1227.9L441.9 1225.5L443.1 1220.1L444.3 1228.1L445.6 1228.2L446.8 1230.4L448.0 1224.1L449.2 1230.9L450.4 1226.0L451.7 1224.0L452.9 1226.8L454.1 1230.3L455.3 1227.5L456.5 1228.9L457.8 1225.0L459.0 1229.0L460.2 1230.4L461.4 1225.0L462.6 1228.8L463.9 1223.7L465.1 1228.2L466.3 1223.2L467.5 1228.7L468.8 1227.5L470.0 1224.3L471.2 1228.6L472.4 1224.7L473.6 1227.8L474.9 1224.8L476.1 1229.0L477.3 1225.6L478.5 1230.6L479.7 1224.6L481.0 1219.8L482.2 1215.6L483.4 1218.5L484.6 1224.5L485.8 1232.6L487.1 1224.7L488.3 1231.1L489.5 1231.2L490.7 1225.9L491.9 1227.0L493.2 1231.4L494.4 1226.9L495.6 1226.4L496.8 1225.9L498.1 1227.8L499.3 1227.3L500.5 1231.2L501.7 1228.3L502.9 1231.0L504.2 1227.2L505.4 1234.8L506.6 1227.1L507.8 1227.0L509.0 1224.8L510.3 1221.1L511.5 1219.8L512.7 1219.2L513.9 1218.6L515.1 1227.9L516.4 1222.0L517.6 1221.2L518.8 1223.3L520.0 1218.2L521.3 1215.7L522.5 1227.6L523.7 1230.8L524.9 1228.3L526.1 1223.7L527.4 1231.1L528.6 1226.7L529.8 1227.1L531.0 1229.0L532.2 1225.6L533.5 1232.0L534.7 1225.8L535.9 1230.7L537.1 1229.9L538.3 1232.8L539.6 1229.1L540.8 1230.1L542.0 1226.5L543.2 1227.0L544.5 1225.9L545.7 1229.8L546.9 1225.8L548.1 1232.0L549.3 1227.4L550.6 1224.3L551.8 1225.8L553.0 1231.0L554.2 1226.3L555.4 1229.4L556.7 1223.1L557.9 1229.0L559.1 1229.9L560.3 1229.1L561.5 1230.0L562.8 1224.9L564.0 1222.9L565.2 1223.9L566.4 1230.1L567.7 1228.9L568.9 1230.0L570.1 1226.1L571.3 1230.0L572.5 1223.2L573.8 1228.9L575.0 1224.7L576.2 1226.4L577.4 1229.6L578.6 1230.2L579.9 1227.2L581.1 1226.6L582.3 1231.5L583.5 1230.6L584.7 1225.7L586.0 1228.4L587.2 1227.0L588.4 1230.3L589.6 1228.9L590.9 1228.8L592.1 1227.8L593.3 1225.9L594.5 1230.6L595.7 1228.6L597.0 1220.7L598.2 1226.2L599.4 1228.0L600.6 1225.1L601.8 1224.5L603.1 1225.2L604.3 1228.0L605.5 1224.2L606.7 1227.9L607.9 1230.6L609.2 1229.3L610.4 1229.3L611.6 1225.6L612.8 1229.5L614.0 1225.9L615.3 1228.1L616.5 1222.0L617.7 1228.5L618.9 1222.7L620.2 1223.8L621.4 1225.9L622.6 1221.7L623.8 1218.6L625.0 1217.0L626.3 1217.1L627.5 1212.5L628.7 1205.4L629.9 1194.9L631.3 1187.1L632.6 1179.7L633.9 1167.6L635.3 1152.2L636.6 1149.2L637.7 1161.7L638.8 1183.7L639.9 1198.4L641.0 1206.3L642.1 1220.9L643.4 1220.3L644.6 1223.7L645.8 1217.4L647.0 1222.4L648.2 1224.5L649.5 1226.4L650.7 1223.3L651.9 1221.7L653.1 1221.6L654.3 1225.4L655.6 1227.4L656.8 1227.4L658.0 1221.8L659.2 1224.8L660.4 1226.5L661.7 1229.7L662.9 1228.3L664.1 1227.3L665.3 1221.4L666.6 1227.9L667.8 1219.7L669.0 1213.4L670.2 1214.1L671.4 1222.4L672.7 1224.9L673.9 1225.4L675.1 1224.3L676.3 1229.0L677.5 1229.7L678.8 1225.6L680.0 1224.8L681.2 1224.8L682.4 1226.3L683.6 1231.2L684.9 1226.6L686.1 1231.8L687.3 1221.7L688.5 1219.5L689.8 1217.5L691.0 1217.9L692.2 1224.4L693.4 1230.7L694.6 1224.6L695.9 1228.0L697.1 1230.9L698.3 1234.0L699.5 1227.7L700.7 1229.7L702.0 1229.8L703.2 1224.4L704.4 1223.6L705.6 1221.0L706.8 1221.7L708.1 1224.4L709.3 1230.3L710.5 1231.1L711.7 1228.1L713.0 1223.9L714.2 1231.0L715.4 1227.5L716.6 1231.8L717.8 1227.8L719.1 1224.2L720.3 1226.7L721.5 1225.6L722.7 1232.0L723.9 1220.9L725.2 1225.6L726.4 1226.3L727.6 1221.2L728.8 1228.0L730.0 1228.0L731.3 1227.3L732.5 1222.5L733.7 1209.0L734.9 1208.8L736.1 1216.0L737.4 1223.8L738.6 1226.1L739.8 1225.0L741.0 1223.3L742.3 1218.5L743.5 1223.4L744.7 1224.6L745.9 1227.2L747.1 1228.1L748.4 1225.2L749.6 1231.5L750.8 1232.9L752.0 1229.0L753.2 1227.6L754.5 1225.5L755.7 1226.6L756.9 1226.0L758.1 1227.6L759.3 1223.5L760.6 1222.7L761.8 1220.4L763.0 1218.4L764.2 1218.8L765.5 1221.7L766.7 1223.4L767.9 1227.0L769.1 1230.7L770.3 1224.8L771.6 1229.3L772.8 1227.0L774.0 1231.2L775.2 1234.0L776.4 1230.6L777.7 1228.6L778.9 1229.1L780.1 1231.4L781.3 1226.8L782.5 1225.4L783.8 1228.1L785.0 1232.3L786.2 1225.6L787.4 1230.8L788.7 1230.1L789.9 1227.0L791.1 1225.4L792.3 1222.9L793.5 1224.3L794.8 1228.0L796.0 1229.6L797.2 1225.7L798.4 1225.8L799.6 1225.2L800.9 1234.4L802.1 1223.4L803.3 1223.1L804.5 1230.3L805.7 1224.1L807.0 1230.1L808.2 1224.8L809.4 1230.0L810.6 1231.0L811.9 1225.6L813.1 1226.8L814.3 1224.0L815.5 1229.2L816.7 1225.7L818.0 1223.8L819.2 1227.6L820.4 1227.3L821.6 1225.9L822.8 1224.6L824.1 1228.3L825.3 1223.4L826.5 1222.5L827.7 1223.9L828.9 1225.6L830.2 1222.3L831.4 1220.8L832.6 1218.7L833.8 1218.0L835.1 1216.6L836.3 1221.6L837.5 1207.0L838.7 1204.8L840.1 1194.8L841.4 1168.6L842.7 1108.2L844.1 908.3L845.4 435.0L846.5 820.7L847.6 1032.1L848.7 1100.1L849.8 1156.6L850.9 1180.1L852.1 1197.0L853.4 1207.2L854.6 1197.4L855.8 1192.5L857.0 1205.4L858.2 1215.5L859.5 1218.1L860.7 1223.8L861.9 1224.6L863.1 1225.4L864.4 1217.4L865.6 1228.6L866.8 1227.8L868.0 1230.1L869.2 1224.2L870.5 1219.7L871.7 1222.4L872.9 1223.8L874.1 1232.3L875.3 1224.4L876.6 1225.3L877.8 1229.7L879.0 1229.5L880.2 1229.7L881.4 1225.6L882.7 1232.5L883.9 1228.3L885.1 1224.7L886.3 1228.4L887.6 1223.1L888.8 1223.7L890.0 1225.3L891.2 1223.9L892.4 1225.9L893.7 1225.5L894.9 1226.0L896.1 1224.9L897.3 1230.7L898.5 1224.6L899.8 1225.9L901.0 1224.9L902.2 1225.8L903.4 1223.8L904.6 1233.6L905.9 1226.8L907.1 1229.9L908.3 1226.5L909.5 1223.8L910.8 1226.1L912.0 1225.6L913.2 1224.1L914.4 1227.9L915.6 1232.3L916.9 1228.2L918.1 1230.7L919.3 1231.4L920.5 1222.1L921.7 1233.2L923.0 1223.9L924.2 1233.0L925.4 1228.3L926.6 1229.5L927.8 1234.1L929.1 1230.8L930.3 1223.1L931.5 1222.5L932.7 1224.3L934.0 1230.7L935.2 1228.7L936.4 1230.4L937.6 1229.0L938.8 1231.3L940.1 1224.7L941.3 1222.4L942.5 1225.8L943.7 1230.1L944.9 1224.8L946.2 1220.9L947.4 1226.1L948.6 1229.7L949.8 1228.9L951.0 1226.7L952.3 1226.2L953.5 1221.6L954.7 1227.6L955.9 1233.1L957.2 1226.2L958.4 1232.3L959.6 1224.0L960.8 1226.3L962.0 1226.1L963.3 1227.4L964.5 1222.2L965.7 1230.8L966.9 1226.4L968.1 1221.0L969.4 1229.1L970.6 1227.7L971.8 1223.5L973.0 1226.9L974.2 1229.6L975.5 1229.2L976.7 1228.2L977.9 1225.3L979.1 1228.1L980.3 1231.0L981.6 1233.6L982.8 1229.1L984.0 1229.6L985.2 1230.1L986.5 1226.5L987.7 1222.1L988.9 1225.5L990.1 1226.5L991.3 1227.5L992.6 1226.7L993.8 1224.4L995.0 1224.7L996.2 1225.3L997.4 1223.2L998.7 1223.1L999.9 1220.2L1001.1 1223.8L1002.3 1224.7L1003.5 1222.0L1004.8 1222.6L1006.0 1222.8L1007.2 1218.4L1008.4 1218.4L1009.7 1215.6L1010.9 1216.6L1012.1 1207.2L1013.2 1202.3L1014.4 1180.2L1015.5 1152.7L1016.7 1039.8L1017.8 870.0L1019.1 1030.1L1020.4 1110.3L1021.7 1142.4L1023.0 1181.1L1024.3 1204.3L1025.5 1210.3L1026.7 1215.8L1028.0 1212.6L1029.2 1202.8L1030.4 1213.2L1031.6 1222.5L1032.9 1226.9L1034.1 1225.0L1035.3 1230.1L1036.5 1229.4L1037.7 1227.8L1039.0 1230.3L1040.2 1218.8L1041.4 1229.9L1042.6 1230.7L1043.8 1226.3L1045.1 1229.1L1046.3 1224.9L1047.5 1226.4L1048.7 1226.4L1049.9 1224.0L1051.2 1226.4L1052.4 1222.0L1053.6 1226.7L1054.8 1232.1L1056.1 1232.7L1057.3 1227.2L1058.5 1232.3L1059.7 1228.5L1060.9 1223.6L1062.2 1225.6L1063.4 1227.2L1064.6 1227.3L1065.8 1229.3L1067.0 1225.4L1068.3 1226.3L1069.5 1230.5L1070.7 1227.9L1071.9 1228.7L1073.1 1227.4L1074.4 1229.6L1075.6 1229.7L1076.8 1225.3L1078.0 1230.9L1079.3 1225.7L1080.5 1228.5L1081.7 1226.6L1082.9 1229.4L1084.1 1228.2L1085.4 1229.0L1086.6 1227.6L1087.8 1226.5L1089.0 1226.9L1090.2 1225.0L1091.5 1220.2L1092.7 1214.9L1093.9 1218.8L1095.1 1222.2L1096.3 1218.3L1097.6 1223.8L1098.8 1219.4L1100.0 1218.4L1101.2 1217.3L1102.4 1216.5L1103.7 1218.7L1104.9 1217.5L1106.1 1224.8L1107.3 1226.4L1108.6 1230.5L1109.8 1225.2L1111.0 1227.0L1112.2 1228.0L1113.4 1231.2L1114.7 1224.1L1115.9 1230.0L1117.1 1227.4L1118.3 1225.8L1119.5 1223.8L1120.8 1224.9L1122.0 1230.1L1123.2 1226.3L1124.4 1225.0L1125.6 1226.6L1126.9 1231.6L1128.1 1230.7L1129.3 1230.2L1130.5 1230.7L1131.8 1230.1L1133.0 1226.7L1134.2 1224.7L1135.4 1231.4L1136.6 1227.5L1137.9 1228.3L1139.1 1226.6L1140.3 1229.4L1141.5 1231.8L1142.7 1226.7L1144.0 1228.4L1145.2 1228.1L1146.4 1229.8L1147.6 1227.9L1148.8 1228.1L1150.1 1226.2L1151.3 1228.0L1152.5 1225.8L1153.7 1230.0L1155.0 1227.4L1156.2 1232.4L1157.4 1225.0L1158.6 1219.0L1159.8 1218.8L1161.1 1225.5L1162.3 1223.3L1163.5 1235.2L1164.7 1227.4L1165.9 1231.1L1167.2 1226.8L1168.4 1230.0L1169.6 1231.2L1170.8 1226.6L1172.0 1229.0L1173.3 1230.5L1174.5 1233.9L1175.7 1230.9L1176.9 1232.1L1178.2 1229.8L1179.4 1230.1L1180.6 1229.8L1181.8 1227.5L1183.0 1222.9L1184.3 1223.3L1185.5 1229.1L1186.7 1229.5L1187.9 1228.3L1189.1 1226.4L1190.4 1226.6L1191.6 1224.4L1192.8 1231.4L1194.0 1223.2L1195.2 1232.7L1196.5 1226.8L1197.7 1235.3L1198.9 1229.4L1200.1 1227.1L1201.4 1228.4L1202.6 1226.6L1203.8 1232.4L1205.0 1227.9L1206.2 1228.7L1207.5 1225.5L1208.7 1229.7L1209.9 1223.7L1211.1 1226.0L1212.3 1231.6L1213.6 1222.0L1214.8 1228.8L1216.0 1231.3L1217.2 1228.3L1218.4 1232.2L1219.7 1231.6L1220.9 1229.4L1222.1 1223.4L1223.3 1226.6L1224.5 1227.0L1225.8 1230.8L1227.0 1227.7L1228.2 1227.0L1229.4 1224.2L1230.7 1227.3L1231.9 1228.5L1233.1 1220.8L1234.3 1227.6L1235.5 1228.9L1236.8 1227.0L1238.0 1227.3L1239.2 1226.1L1240.4 1230.3L1241.6 1226.1L1242.9 1231.1L1244.1 1228.7L1245.3 1222.2L1246.5 1226.8L1247.7 1228.4L1249.0 1230.0L1250.2 1227.8L1251.4 1226.5L1252.6 1226.3L1253.9 1225.3L1255.1 1219.1L1256.3 1225.2L1257.5 1232.4L1258.7 1228.4L1260.0 1224.9L1261.2 1232.6L1262.4 1233.4L1263.6 1227.1L1264.8 1229.9L1266.1 1227.8L1267.3 1228.8L1268.5 1230.6L1269.7 1227.0L1270.9 1227.6L1272.2 1226.9L1273.4 1222.9L1274.6 1229.1L1275.8 1230.2L1277.1 1228.2L1278.3 1227.9L1279.5 1230.1L1280.7 1225.8L1281.9 1224.7L1283.2 1229.1L1284.4 1228.2L1285.6 1232.8L1286.8 1223.7L1288.0 1227.6L1289.3 1224.2L1290.5 1233.9L1291.7 1226.6L1292.9 1230.0L1294.1 1221.4L1295.4 1225.0L1296.6 1229.9L1297.8 1226.5L1299.0 1225.9L1300.3 1229.5L1301.5 1227.6L1302.7 1225.0L1303.9 1218.2L1305.1 1219.9L1306.4 1231.0L1307.6 1230.5L1308.8 1227.3L1310.0 1226.7L1311.2 1222.5L1312.5 1224.6L1313.7 1231.6L1314.9 1224.5L1316.1 1226.7L1317.3 1232.7L1318.6 1230.9L1319.8 1228.9L1321.0 1229.1L1322.2 1227.0L1323.5 1228.4L1324.7 1228.0L1325.9 1231.7L1327.1 1230.1L1328.3 1225.8L1329.6 1232.0L1330.8 1230.4L1332.0 1231.2L1333.2 1231.6L1334.4 1230.3L1335.7 1228.7L1336.9 1231.8L1338.1 1231.4L1339.3 1227.4L1340.5 1227.7L1341.8 1228.9L1343.0 1229.7L1344.2 1228.0L1345.4 1224.2L1346.6 1231.6L1347.9 1226.3L1349.1 1224.9L1350.3 1225.7L1351.5 1228.3L1352.8 1227.5L1354.0 1221.5L1355.2 1223.6L1356.4 1223.5L1357.6 1225.8L1358.9 1228.4L1360.1 1226.1L1361.3 1233.5L1362.5 1230.4L1363.7 1232.1L1365.0 1229.9L1366.2 1223.9L1367.4 1226.8L1368.6 1217.2L1369.8 1220.7L1371.1 1227.6L1372.3 1228.0L1373.5 1229.8L1374.7 1227.4L1376.0 1231.2L1377.2 1230.5L1378.4 1229.2L1379.6 1226.2L1380.8 1226.6L1382.1 1231.3L1383.3 1235.7L1384.5 1227.0" fill="none" stroke="#0000FF" stroke-width="7.0" stroke-linejoin="round" stroke-linecap="butt" />
<path d="M163.5 1013.4L164.7 1013.7L165.9 1013.5L167.2 1014.9L168.4 1019.2L169.6 1012.8L170.8 1018.1L172.0 1018.8L173.3 1015.4L174.5 1014.6L175.7 1017.0L176.9 1018.6L178.2 1020.5L179.4 1017.8L180.6 1019.2L181.8 1014.9L183.0 1013.9L184.3 1012.1L185.5 1013.2L186.7 1014.7L187.9 1015.8L189.1 1012.5L190.4 1016.8L191.6 1014.7L192.8 1013.3L194.0 1012.7L195.2 1018.2L196.5 1013.7L197.7 1010.8L198.9 1009.6L200.1 1013.9L201.4 1006.3L202.6 1005.5L203.8 996.5L205.0 967.6L206.3 936.2L207.5 904.7L208.7 927.2L209.9 964.1L211.1 989.2L212.3 1000.4L213.6 1006.2L214.8 1006.9L216.0 1013.0L217.2 1014.8L218.4 1016.4L219.7 1015.3L220.9 1017.6L222.1 1018.4L223.3 1015.8L224.6 1016.4L225.8 1016.0L227.0 1016.1L228.2 1016.8L229.4 1011.5L230.7 1014.5L231.9 1016.3L233.1 1010.9L234.3 1012.4L235.5 1018.8L236.8 1013.2L238.0 1014.5L239.2 1016.3L240.4 1014.6L241.6 1013.8L242.9 1014.5L244.1 1014.7L245.3 1014.4L246.5 1016.0L247.7 1019.0L249.0 1016.4L250.2 1019.1L251.4 1017.2L252.6 1017.4L253.9 1016.9L255.1 1015.0L256.3 1016.6L257.5 1016.3L258.7 1013.3L260.0 1017.2L261.2 1016.9L262.4 1016.4L263.6 1014.5L264.8 1010.2L266.1 1018.7L267.3 1015.5L268.5 1011.1L269.7 1017.0L270.9 1014.2L272.2 1017.1L273.4 1015.4L274.6 1018.0L275.8 1016.1L277.1 1016.2L278.3 1015.9L279.5 1018.2L280.7 1012.9L281.9 1018.1L283.2 1017.0L284.4 1014.4L285.6 1015.6L286.8 1014.6L288.0 1015.7L289.3 1017.5L290.5 1014.1L291.7 1017.1L292.9 1017.5L294.1 1016.9L295.4 1018.8L296.6 1015.3L297.8 1016.9L299.0 1020.7L300.3 1015.5L301.5 1015.2L302.7 1015.5L303.9 1016.7L305.1 1014.1L306.4 1014.9L307.6 1011.7L308.8 1013.2L310.0 1013.2L311.2 1012.9L312.5 1014.4L313.7 1016.8L314.9 1014.5L316.1 1012.6L317.3 1015.8L318.6 1015.7L319.8 1012.3L321.0 1015.6L322.2 1013.0L323.5 1013.9L324.7 1013.7L325.9 1016.9L327.1 1013.5L328.3 1014.5L329.6 1015.6L330.8 1017.3L332.0 1017.6L333.2 1013.0L334.4 1017.6L335.7 1015.7L336.9 1017.6L338.1 1017.2L339.3 1013.9L340.5 1015.1L341.8 1014.3L343.0 1015.7L344.2 1018.4L345.4 1015.0L346.7 1013.4L347.9 1020.1L349.1 1012.6L350.3 1014.7L351.5 1014.6L352.8 1011.9L354.0 1016.2L355.2 1016.7L356.4 1014.2L357.6 1014.4L358.9 1013.8L360.1 1010.3L361.3 1014.4L362.5 1011.1L363.7 1011.5L365.0 1014.2L366.2 1015.0L367.4 1010.9L368.6 1014.8L369.8 1015.6L371.1 1011.6L372.3 1010.2L373.5 1009.7L374.7 1006.9L376.0 1003.7L377.2 1003.3L378.4 997.3L379.5 983.7L380.6 963.2L381.8 928.0L382.9 883.6L384.0 859.7L385.3 885.5L386.6 937.7L388.0 969.4L389.3 989.2L390.6 1002.2L391.8 1002.1L393.0 1007.1L394.3 1005.0L395.5 1007.9L396.7 1011.6L397.9 1010.4L399.2 1008.6L400.4 1008.8L401.6 1013.1L402.8 1010.7L404.0 1014.4L405.3 1013.7L406.5 1012.7L407.7 1013.3L408.9 1015.2L410.1 1013.8L411.4 1011.8L412.6 1014.6L413.8 1013.2L415.0 1013.5L416.2 1015.3L417.5 1014.8L418.7 1016.3L419.9 1013.8L421.1 1013.3L422.4 1013.6L423.6 1015.1L424.8 1012.7L426.0 1013.6L427.2 1012.6L428.5 1012.8L429.7 1014.0L430.9 1019.4L432.1 1013.6L433.3 1015.0L434.6 1014.6L435.8 1014.1L437.0 1014.5L438.2 1018.5L439.4 1013.9L440.7 1017.8L441.9 1015.8L443.1 1012.7L444.3 1013.2L445.6 1013.5L446.8 1012.3L448.0 1016.9L449.2 1015.3L450.4 1015.6L451.7 1012.4L452.9 1015.5L454.1 1013.4L455.3 1019.5L456.5 1014.3L457.8 1015.1L459.0 1015.3L460.2 1013.5L461.4 1013.7L462.6 1013.7L463.9 1016.2L465.1 1013.0L466.3 1014.1L467.5 1015.1L468.8 1013.6L470.0 1011.7L471.2 1012.0L472.4 1013.6L473.6 1012.5L474.9 1016.4L476.1 1014.5L477.3 1014.4L478.5 1012.4L479.7 1015.5L481.0 1013.7L482.2 1012.5L483.4 1013.1L484.6 1019.3L485.8 1013.1L487.1 1012.6L488.3 1016.7L489.5 1015.9L490.7 1013.8L491.9 1017.2L493.2 1011.4L494.4 1013.4L495.6 1011.0L496.8 1017.1L498.1 1014.4L499.3 1019.6L500.5 1015.2L501.7 1015.3L502.9 1012.0L504.2 1011.9L505.4 1013.3L506.6 1016.1L507.8 1012.1L509.0 1009.3L510.3 1015.9L511.5 1016.0L512.7 1012.3L513.9 1015.0L515.1 1016.4L516.4 1016.5L517.6 1010.9L518.8 1014.2L520.0 1012.5L521.3 1016.0L522.5 1014.2L523.7 1011.6L524.9 1014.2L526.1 1015.2L527.4 1010.8L528.6 1011.2L529.8 1012.6L531.0 1013.3L532.2 1012.8L533.5 1010.2L534.7 1010.7L535.9 1013.8L537.1 1014.7L538.3 1012.0L539.6 1014.2L540.8 1017.7L542.0 1013.4L543.2 1012.9L544.5 1012.4L545.7 1014.8L546.9 1014.3L548.1 1014.4L549.3 1013.1L550.6 1014.7L551.8 1014.7L553.0 1013.5L554.2 1016.2L555.4 1010.6L556.7 1015.3L557.9 1013.6L559.1 1015.5L560.3 1017.7L561.5 1013.9L562.8 1013.4L564.0 1013.7L565.2 1016.6L566.4 1017.0L567.7 1014.1L568.9 1015.1L570.1 1017.5L571.3 1014.9L572.5 1010.7L573.8 1012.1L575.0 1012.7L576.2 1014.5L577.4 1012.5L578.6 1016.6L579.9 1012.7L581.1 1016.9L582.3 1012.3L583.5 1016.4L584.7 1014.0L586.0 1016.5L587.2 1017.6L588.4 1017.2L589.6 1015.7L590.9 1012.0L592.1 1011.8L593.3 1007.9L594.5 1016.5L595.7 1016.0L597.0 1015.5L598.2 1011.0L599.4 1018.7L600.6 1011.8L601.8 1015.0L603.1 1009.8L604.3 1011.8L605.5 1015.5L606.7 1015.1L607.9 1010.6L609.2 1012.6L610.4 1014.9L611.6 1008.7L612.8 1013.9L614.0 1008.9L615.3 1013.3L616.5 1011.2L617.7 1013.5L618.9 1010.1L620.2 1010.1L621.4 1009.6L622.6 1007.8L623.8 1008.5L625.0 1006.1L626.3 1005.8L627.5 1006.7L628.7 1002.1L629.9 1001.3L631.1 995.1L632.4 987.7L633.5 974.2L634.7 966.2L635.8 956.3L637.0 944.9L638.1 939.5L639.4 946.1L640.7 950.3L642.0 966.7L643.3 977.9L644.6 985.8L645.8 990.3L647.0 998.4L648.2 1001.4L649.5 1008.3L650.7 1008.7L651.9 1006.4L653.1 1006.0L654.3 1007.1L655.6 1009.4L656.8 1008.4L658.0 1014.4L659.2 1008.1L660.4 1010.7L661.7 1011.4L662.9 1012.1L664.1 1009.4L665.3 1011.0L666.6 1011.8L667.8 1012.1L669.0 1010.1L670.2 1010.1L671.4 1009.0L672.7 1006.9L673.9 997.5L675.1 1006.8L676.3 1012.2L677.5 1006.6L678.8 1012.2L680.0 1011.5L681.2 1008.1L682.4 1009.6L683.6 1010.7L684.9 1007.8L686.1 1009.3L687.3 1007.3L688.5 1008.7L689.8 1010.4L691.0 1009.5L692.2 1011.4L693.4 1005.3L694.6 1002.1L695.9 1008.0L697.1 1010.7L698.3 1011.5L699.5 1011.5L700.7 1010.6L702.0 1011.2L703.2 1015.8L704.4 1014.4L705.6 1013.0L706.8 1013.7L708.1 1012.2L709.3 1011.0L710.5 1011.9L711.7 1012.8L713.0 1009.5L714.2 1009.9L715.4 1009.2L716.6 1011.9L717.8 1014.0L719.1 1009.9L720.3 1010.2L721.5 1009.1L722.7 1011.2L723.9 1009.3L725.2 1008.7L726.4 1006.5L727.6 1010.1L728.8 1001.4L730.0 999.1L731.3 1002.0L732.5 1007.5L733.7 1008.2L734.9 1004.3L736.1 995.5L737.4 999.6L738.6 1002.7L739.8 1006.9L741.0 1009.9L742.3 1011.0L743.5 1014.3L744.7 1011.5L745.9 1014.6L747.1 1011.5L748.4 1011.8L749.6 1011.8L750.8 1011.6L752.0 1011.8L753.2 1014.4L754.5 1016.1L755.7 1011.4L756.9 1010.7L758.1 1015.5L759.3 1012.2L760.6 1013.4L761.8 1013.1L763.0 1014.5L764.2 1010.4L765.5 1013.4L766.7 1010.8L767.9 1003.4L769.1 1009.1L770.3 1010.5L771.6 1013.1L772.8 1012.6L774.0 1011.3L775.2 1012.2L776.4 1013.6L777.7 1013.0L778.9 1012.6L780.1 1017.6L781.3 1014.1L782.5 1010.6L783.8 1013.2L785.0 1013.6L786.2 1010.9L787.4 1013.2L788.7 1011.2L789.9 1008.3L791.1 1013.6L792.3 1014.2L793.5 1014.2L794.8 1012.6L796.0 1011.7L797.2 1013.4L798.4 1013.8L799.6 1014.8L800.9 1015.6L802.1 1014.5L803.3 1011.6L804.5 1012.7L805.7 1009.9L807.0 1014.2L808.2 1013.9L809.4 1015.2L810.6 1013.7L811.9 1015.9L813.1 1011.2L814.3 1013.3L815.5 1012.0L816.7 1012.0L818.0 1008.7L819.2 1010.8L820.4 1008.1L821.6 1011.5L822.8 1010.6L824.1 1012.3L825.3 1008.1L826.5 1010.6L827.7 1011.0L828.9 1006.6L830.2 1014.5L831.4 1011.9L832.6 1008.9L833.8 1014.1L835.1 1012.5L836.3 1003.9L837.5 1007.6L838.7 1005.9L839.9 1005.8L841.2 1001.7L842.4 1000.2L843.6 996.1L844.9 981.7L846.2 968.5L847.6 923.4L848.9 748.1L850.2 289.5L851.3 645.5L852.4 832.0L853.6 885.5L854.7 938.5L855.8 970.3L857.0 992.5L858.2 996.7L859.5 1001.6L860.7 1005.4L861.9 1008.5L863.1 1004.0L864.4 1005.8L865.6 1009.0L866.8 1010.5L868.0 1007.4L869.2 1007.4L870.5 1012.2L871.7 1012.4L872.9 1010.5L874.1 1010.7L875.3 1010.2L876.6 1009.2L877.8 1009.9L879.0 1012.2L880.2 1011.5L881.4 1014.0L882.7 1009.3L883.9 1008.6L885.1 1013.3L886.3 1010.2L887.6 1011.6L888.8 1012.3L890.0 1009.7L891.2 1009.1L892.4 1012.9L893.7 1007.1L894.9 1013.7L896.1 1008.7L897.3 1014.1L898.5 1013.1L899.8 1013.0L901.0 1013.5L902.2 1012.8L903.4 1009.7L904.6 1014.3L905.9 1012.8L907.1 1013.5L908.3 1012.3L909.5 1012.0L910.8 1014.5L912.0 1014.6L913.2 1013.1L914.4 1010.1L915.6 1010.7L916.9 1010.5L918.1 1015.0L919.3 1013.7L920.5 1012.8L921.7 1012.4L923.0 1011.2L924.2 1014.4L925.4 1010.6L926.6 1011.0L927.8 1014.5L929.1 1014.1L930.3 1012.6L931.5 1010.1L932.7 1010.1L934.0 1014.5L935.2 1013.5L936.4 1015.8L937.6 1011.5L938.8 1011.0L940.1 1004.7L941.3 1009.2L942.5 1006.9L943.7 1013.6L944.9 1016.0L946.2 1010.7L947.4 1009.7L948.6 1010.6L949.8 1009.8L951.0 1013.4L952.3 1012.4L953.5 1010.1L954.7 1008.4L955.9 1008.0L957.2 1007.9L958.4 1011.0L959.6 1016.6L960.8 1010.8L962.0 1011.7L963.3 1015.8L964.5 1012.8L965.7 1008.7L966.9 1010.9L968.1 1008.0L969.4 1011.3L970.6 1013.4L971.8 1009.2L973.0 1015.9L974.2 1015.3L975.5 1014.3L976.7 1011.1L977.9 1012.7L979.1 1013.7L980.3 1014.6L981.6 1015.2L982.8 1008.0L984.0 1011.0L985.2 1010.0L986.5 1011.7L987.7 1012.9L988.9 1017.2L990.1 1012.1L991.3 1014.2L992.6 1012.5L993.8 1012.1L995.0 1015.8L996.2 1009.7L997.4 1013.4L998.7 1016.2L999.9 1017.3L1001.1 1010.6L1002.3 1009.5L1003.5 1008.6L1004.8 1010.2L1006.0 1010.8L1007.2 1010.5L1008.4 1012.4L1009.7 1008.8L1010.9 1009.4L1012.1 1004.3L1013.3 1005.0L1014.5 1004.1L1015.8 996.4L1017.0 996.7L1018.2 989.6L1019.3 970.5L1020.5 928.5L1021.7 802.6L1022.9 598.0L1024.2 799.4L1025.4 930.6L1026.7 990.2L1027.9 1016.8L1029.2 1013.8L1030.4 1002.6L1031.6 1004.2L1032.9 1009.5L1034.1 1009.2L1035.3 1007.7L1036.5 1007.4L1037.7 1011.6L1039.0 1010.0L1040.2 1006.6L1041.4 1009.7L1042.6 1014.4L1043.8 1007.5L1045.1 1011.3L1046.3 1009.7L1047.5 1011.3L1048.7 1010.7L1049.9 1009.8L1051.2 1006.4L1052.4 1011.3L1053.6 1011.9L1054.8 1011.6L1056.1 1009.6L1057.3 1010.6L1058.5 1016.6L1059.7 1009.6L1060.9 1011.3L1062.2 1009.4L1063.4 1011.6L1064.6 1012.6L1065.8 1014.6L1067.0 1012.6L1068.3 1012.1L1069.5 1012.9L1070.7 1013.3L1071.9 1012.1L1073.1 1012.1L1074.4 1014.7L1075.6 1010.6L1076.8 1012.0L1078.0 1010.2L1079.3 1011.1L1080.5 1015.3L1081.7 1010.7L1082.9 1013.2L1084.1 1016.6L1085.4 1013.2L1086.6 1011.8L1087.8 1010.4L1089.0 1006.8L1090.2 1010.0L1091.5 1010.0L1092.7 1014.0L1093.9 1013.4L1095.1 1009.1L1096.3 1013.0L1097.6 1010.2L1098.8 1015.2L1100.0 1013.9L1101.2 1010.9L1102.4 1006.1L1103.7 1006.6L1104.9 1000.8L1106.1 1001.4L1107.3 1004.1L1108.6 1006.5L1109.8 1011.3L1111.0 1009.1L1112.2 1013.1L1113.4 1012.1L1114.7 1008.4L1115.9 1013.0L1117.1 1011.9L1118.3 1011.2L1119.5 1011.9L1120.8 1013.8L1122.0 1009.7L1123.2 1009.9L1124.4 1013.7L1125.6 1012.5L1126.9 1008.5L1128.1 1012.4L1129.3 1008.5L1130.5 1013.5L1131.8 1012.5L1133.0 1012.5L1134.2 1006.4L1135.4 1004.9L1136.6 1008.9L1137.9 1007.2L1139.1 1012.7L1140.3 1011.4L1141.5 1012.2L1142.7 1010.2L1144.0 1013.2L1145.2 1012.8L1146.4 1013.8L1147.6 1017.2L1148.8 1011.6L1150.1 1012.2L1151.3 1009.8L1152.5 1015.7L1153.7 1011.3L1155.0 1013.6L1156.2 1009.6L1157.4 1011.4L1158.6 1013.1L1159.8 1012.6L1161.1 1009.9L1162.3 1009.0L1163.5 1004.3L1164.7 1009.2L1165.9 1009.8L1167.2 1012.1L1168.4 1007.3L1169.6 1007.1L1170.8 1005.7L1172.0 1009.8L1173.3 1010.3L1174.5 1014.0L1175.7 1012.3L1176.9 1011.6L1178.2 1014.8L1179.4 1010.5L1180.6 1014.2L1181.8 1015.2L1183.0 1008.5L1184.3 1014.0L1185.5 1013.2L1186.7 1012.5L1187.9 1012.8L1189.1 1009.5L1190.4 1013.1L1191.6 1012.5L1192.8 1008.9L1194.0 1011.6L1195.2 1009.5L1196.5 1012.2L1197.7 1010.1L1198.9 1012.2L1200.1 1009.0L1201.4 1010.8L1202.6 1011.1L1203.8 1011.5L1205.0 1014.3L1206.2 1016.5L1207.5 1008.7L1208.7 1013.7L1209.9 1011.3L1211.1 1011.3L1212.3 1011.3L1213.6 1011.6L1214.8 1011.7L1216.0 1013.7L1217.2 1014.6L1218.4 1012.7L1219.7 1012.0L1220.9 1013.1L1222.1 1012.8L1223.3 1015.7L1224.5 1009.9L1225.8 1009.0L1227.0 1011.3L1228.2 1012.5L1229.4 1011.4L1230.7 1012.3L1231.9 1006.4L1233.1 1010.2L1234.3 1010.4L1235.5 1008.9L1236.8 1010.4L1238.0 1011.2L1239.2 1012.5L1240.4 1009.7L1241.6 1008.2L1242.9 1012.4L1244.1 1015.6L1245.3 1011.9L1246.5 1011.8L1247.7 1009.5L1249.0 1012.0L1250.2 1014.8L1251.4 1007.5L1252.6 1013.7L1253.9 1007.5L1255.1 1014.6L1256.3 1013.3L1257.5 1010.9L1258.7 1012.2L1260.0 1015.0L1261.2 1009.4L1262.4 1014.0L1263.6 1012.8L1264.8 1011.6L1266.1 1014.6L1267.3 1008.2L1268.5 1011.3L1269.7 1009.1L1270.9 1011.5L1272.2 1012.7L1273.4 1008.3L1274.6 1012.2L1275.8 1012.2L1277.1 1010.4L1278.3 1011.4L1279.5 1013.8L1280.7 1012.2L1281.9 1014.9L1283.2 1009.4L1284.4 1008.9L1285.6 1014.0L1286.8 1008.8L1288.0 1014.0L1289.3 1011.5L1290.5 1012.9L1291.7 1010.8L1292.9 1013.7L1294.1 1014.3L1295.4 1014.0L1296.6 1012.5L1297.8 1008.8L1299.0 1013.5L1300.3 1011.7L1301.5 1014.2L1302.7 1008.4L1303.9 1012.4L1305.1 1010.6L1306.4 1011.5L1307.6 1013.3L1308.8 1013.2L1310.0 1014.4L1311.2 1012.5L1312.5 1012.6L1313.7 1012.2L1314.9 1009.2L1316.1 1013.7L1317.3 1009.8L1318.6 1010.4L1319.8 1012.4L1321.0 1010.1L1322.2 1010.5L1323.5 1006.3L1324.7 1009.6L1325.9 1009.1L1327.1 1010.1L1328.3 1012.5L1329.6 1010.8L1330.8 1011.1L1332.0 1011.6L1333.2 1013.5L1334.4 1013.6L1335.7 1012.2L1336.9 1010.9L1338.1 1013.2L1339.3 1010.8L1340.5 1011.0L1341.8 1012.0L1343.0 1010.4L1344.2 1009.1L1345.4 1008.8L1346.6 1010.7L1347.9 1011.8L1349.1 1012.7L1350.3 1009.8L1351.5 1011.8L1352.8 1011.4L1354.0 1010.5L1355.2 1016.5L1356.4 1009.9L1357.6 1009.7L1358.9 1011.6L1360.1 1014.5L1361.3 1010.6L1362.5 1014.0L1363.7 1009.2L1365.0 1010.2L1366.2 1009.0L1367.4 1004.2L1368.6 1004.9L1369.8 1009.2L1371.1 1010.6L1372.3 1009.2L1373.5 1012.3L1374.7 1011.5L1376.0 1011.9L1377.2 1013.8L1378.4 1012.5L1379.6 1012.0L1380.8 1014.4L1382.1 1010.6L1383.3 1008.3L1384.5 1010.3" fill="none" stroke="#008000" stroke-width="7.0" stroke-linejoin="round" stroke-linecap="butt" />
<path d="M163.5 813.7L164.7 816.6L165.9 816.3L167.2 812.4L168.4 812.9L169.6 812.4L170.8 814.8L172.0 813.4L173.3 815.1L174.5 809.4L175.7 816.8L176.9 813.2L178.2 814.8L179.4 813.0L180.6 812.4L181.8 814.2L183.0 815.0L184.3 812.7L185.5 812.7L186.7 814.5L187.9 811.0L189.1 809.5L190.4 813.5L191.6 811.0L192.8 808.1L194.0 810.3L195.2 810.8L196.5 808.9L197.7 807.8L198.9 810.5L200.1 811.5L201.4 807.8L202.6 804.7L203.8 803.9L204.9 799.2L206.0 785.7L207.1 765.2L208.2 729.7L209.3 703.8L210.6 730.3L212.0 770.1L213.3 790.9L214.7 802.5L216.0 801.8L217.2 805.6L218.4 806.7L219.7 805.8L220.9 810.6L222.1 812.0L223.3 809.7L224.6 814.7L225.8 813.7L227.0 813.4L228.2 813.1L229.4 814.4L230.7 809.4L231.9 813.7L233.1 813.5L234.3 806.4L235.5 806.4L236.8 806.2L238.0 812.9L239.2 811.6L240.4 812.7L241.6 813.6L242.9 811.0L244.1 814.3L245.3 812.8L246.5 814.1L247.7 811.9L249.0 815.5L250.2 814.4L251.4 812.7L252.6 814.5L253.9 815.9L255.1 817.1L256.3 809.7L257.5 815.1L258.7 814.1L260.0 812.9L261.2 810.9L262.4 815.9L263.6 810.4L264.8 814.4L266.1 816.0L267.3 809.6L268.5 812.5L269.7 810.2L270.9 813.7L272.2 816.5L273.4 817.6L274.6 809.2L275.8 811.8L277.1 814.7L278.3 816.6L279.5 814.0L280.7 811.5L281.9 813.7L283.2 813.0L284.4 812.6L285.6 811.5L286.8 813.9L288.0 813.7L289.3 812.9L290.5 812.6L291.7 810.2L292.9 812.0L294.1 815.7L295.4 812.6L296.6 809.8L297.8 815.9L299.0 814.2L300.3 817.6L301.5 813.1L302.7 812.0L303.9 809.8L305.1 815.9L306.4 818.6L307.6 811.1L308.8 811.5L310.0 814.2L311.2 811.1L312.5 812.3L313.7 812.1L314.9 813.3L316.1 815.3L317.3 812.9L318.6 814.8L319.8 811.9L321.0 813.5L322.2 808.1L323.5 809.6L324.7 814.5L325.9 811.4L327.1 814.0L328.3 813.9L329.6 815.6L330.8 814.4L332.0 814.8L333.2 812.3L334.4 811.0L335.7 810.9L336.9 811.4L338.1 810.0L339.3 811.2L340.5 812.2L341.8 812.9L343.0 811.5L344.2 808.0L345.4 812.0L346.7 812.6L347.9 814.5L349.1 813.3L350.3 810.5L351.5 810.2L352.8 816.2L354.0 813.3L355.2 815.5L356.4 816.0L357.6 809.4L358.9 811.8L360.1 811.5L361.3 810.4L362.5 807.6L363.7 806.0L365.0 808.1L366.2 805.5L367.4 808.4L368.6 806.6L369.8 807.8L371.1 805.6L372.3 806.8L373.5 805.6L374.7 802.4L376.0 799.4L377.2 794.5L378.4 786.1L379.7 772.1L381.0 741.9L382.4 690.7L383.7 615.8L385.0 571.6L386.1 598.6L387.2 661.0L388.4 710.0L389.5 746.7L390.6 770.4L391.8 783.4L393.0 793.0L394.3 795.9L395.5 798.0L396.7 800.8L397.9 807.3L399.2 805.8L400.4 804.2L401.6 807.6L402.8 804.8L404.0 812.7L405.3 805.9L406.5 810.7L407.7 811.2L408.9 807.0L410.1 811.1L411.4 812.9L412.6 811.9L413.8 811.6L415.0 813.2L416.2 811.6L417.5 812.1L418.7 811.2L419.9 813.0L421.1 809.6L422.4 813.5L423.6 810.7L424.8 809.4L426.0 812.7L427.2 815.7L428.5 814.1L429.7 810.9L430.9 813.6L432.1 811.1L433.3 811.8L434.6 812.3L435.8 807.1L437.0 812.6L438.2 810.0L439.4 810.7L440.7 809.0L441.9 808.9L443.1 810.2L444.3 814.1L445.6 816.0L446.8 812.3L448.0 814.8L449.2 811.8L450.4 808.2L451.7 812.7L452.9 813.4L454.1 811.5L455.3 813.1L456.5 813.7L457.8 810.5L459.0 809.2L460.2 812.0L461.4 812.0L462.6 811.7L463.9 814.7L465.1 816.3L466.3 811.6L467.5 814.0L468.8 814.6L470.0 814.1L471.2 814.8L472.4 811.7L473.6 814.1L474.9 817.0L476.1 814.3L477.3 811.2L478.5 813.9L479.7 815.3L481.0 813.4L482.2 811.3L483.4 815.9L484.6 809.8L485.8 813.7L487.1 812.5L488.3 809.9L489.5 815.2L490.7 813.3L491.9 810.0L493.2 813.9L494.4 811.6L495.6 808.4L496.8 811.0L498.1 813.1L499.3 814.0L500.5 812.9L501.7 812.7L502.9 813.6L504.2 812.1L505.4 815.2L506.6 812.9L507.8 813.2L509.0 813.8L510.3 810.2L511.5 811.0L512.7 815.9L513.9 813.3L515.1 812.0L516.4 813.3L517.6 811.5L518.8 813.2L520.0 811.1L521.3 813.2L522.5 809.1L523.7 815.5L524.9 811.4L526.1 809.1L527.4 812.1L528.6 811.8L529.8 812.9L531.0 810.1L532.2 813.4L533.5 818.3L534.7 809.8L535.9 813.3L537.1 811.9L538.3 813.0L539.6 808.6L540.8 810.0L542.0 813.6L543.2 812.5L544.5 816.2L545.7 811.0L546.9 813.0L548.1 818.3L549.3 810.9L550.6 810.6L551.8 812.5L553.0 812.5L554.2 814.4L555.4 812.8L556.7 810.9L557.9 813.0L559.1 818.3L560.3 815.4L561.5 806.8L562.8 812.2L564.0 810.6L565.2 813.9L566.4 812.2L567.7 816.8L568.9 814.6L570.1 814.5L571.3 813.0L572.5 812.5L573.8 813.3L575.0 815.4L576.2 813.7L577.4 811.8L578.6 815.3L579.9 813.0L581.1 812.4L582.3 810.8L583.5 811.3L584.7 811.1L586.0 806.8L587.2 814.8L588.4 813.8L589.6 812.1L590.9 814.8L592.1 813.5L593.3 813.3L594.5 807.1L595.7 812.0L597.0 813.7L598.2 816.1L599.4 816.6L600.6 815.7L601.8 810.0L603.1 807.7L604.3 813.8L605.5 812.6L606.7 814.6L607.9 812.2L609.2 813.0L610.4 809.2L611.6 813.5L612.8 811.5L614.0 813.3L615.3 813.5L616.5 812.2L617.7 813.2L618.9 812.4L620.2 814.1L621.4 813.6L622.6 811.3L623.8 811.2L625.0 816.3L626.3 811.3L627.5 809.1L628.7 803.9L630.0 795.0L631.2 781.7L632.5 753.2L633.7 619.3L635.0 533.9L636.2 546.1L637.4 587.9L638.5 647.5L639.7 693.2L640.9 718.0L642.1 754.3L643.4 770.0L644.6 783.4L645.8 789.9L647.0 797.4L648.2 804.2L649.5 804.1L650.7 806.2L651.9 807.6L653.1 806.7L654.3 810.8L655.6 810.3L656.8 810.2L658.0 812.1L659.2 811.6L660.4 813.8L661.7 811.9L662.9 810.8L664.1 815.1L665.3 814.0L666.6 814.4L667.8 812.8L669.0 810.9L670.2 809.7L671.4 809.0L672.7 808.7L673.9 799.1L675.1 784.9L676.3 790.9L677.5 798.1L678.8 806.7L680.0 804.9L681.2 804.4L682.4 806.7L683.6 805.3L684.9 801.0L686.1 806.0L687.3 809.4L688.5 802.1L689.8 810.0L691.0 804.8L692.2 804.3L693.4 802.1L694.6 794.2L695.9 795.7L697.1 795.1L698.3 798.2L699.5 804.5L700.7 804.9L702.0 809.1L703.2 812.6L704.4 807.2L705.6 810.3L706.8 811.7L708.1 813.8L709.3 814.6L710.5 810.7L711.7 810.1L713.0 812.7L714.2 810.9L715.4 811.0L716.6 814.1L717.8 815.4L719.1 812.2L720.3 811.1L721.5 812.7L722.7 807.2L723.9 811.1L725.2 808.6L726.4 815.8L727.6 811.7L728.8 809.7L730.0 807.8L731.4 800.6L732.7 803.2L734.0 795.7L735.3 774.2L736.6 763.5L737.7 772.2L738.9 781.2L740.0 797.2L741.1 804.7L742.3 805.9L743.5 807.4L744.7 810.6L745.9 806.3L747.1 810.4L748.4 812.9L749.6 808.2L750.8 813.3L752.0 810.4L753.2 806.9L754.5 811.3L755.7 809.5L756.9 812.4L758.1 809.2L759.3 814.0L760.6 810.1L761.8 812.4L763.0 810.1L764.2 810.3L765.5 812.5L766.7 806.6L767.9 797.5L769.1 793.5L770.3 806.6L771.6 810.8L772.8 810.2L774.0 812.0L775.2 809.5L776.4 809.7L777.7 810.2L778.9 812.9L780.1 812.8L781.3 810.6L782.5 813.9L783.8 814.0L785.0 812.7L786.2 814.6L787.4 811.7L788.7 812.1L789.9 813.4L791.1 812.3L792.3 814.1L793.5 809.6L794.8 815.5L796.0 810.7L797.2 812.0L798.4 809.4L799.6 813.7L800.9 815.2L802.1 814.7L803.3 814.2L804.5 808.9L805.7 810.6L807.0 811.3L808.2 810.3L809.4 814.8L810.6 812.7L811.9 812.3L813.1 813.4L814.3 810.2L815.5 810.2L816.7 810.3L818.0 813.3L819.2 812.9L820.4 813.4L821.6 814.4L822.8 809.0L824.1 810.7L825.3 812.2L826.5 808.9L827.7 810.6L828.9 813.9L830.2 813.9L831.4 813.7L832.6 811.3L833.8 810.5L835.1 813.0L836.3 809.5L837.5 810.6L838.7 812.2L839.9 807.7L841.2 806.2L842.4 806.0L843.6 805.1L844.8 801.2L846.1 793.8L847.4 780.8L848.7 740.5L850.0 614.9L851.3 288.0L852.4 576.0L853.6 705.0L854.7 747.2L855.9 776.2L857.0 792.2L858.2 797.6L859.5 804.2L860.7 809.7L861.9 807.2L863.1 811.4L864.4 810.0L865.6 807.5L866.8 809.8L868.0 808.6L869.2 812.7L870.5 808.7L871.7 814.4L872.9 812.9L874.1 807.3L875.3 813.6L876.6 815.4L877.8 810.3L879.0 814.3L880.2 808.2L881.4 812.8L882.7 808.6L883.9 813.4L885.1 808.4L886.3 806.7L887.6 813.3L888.8 817.5L890.0 811.2L891.2 814.4L892.4 812.8L893.7 811.9L894.9 813.9L896.1 816.2L897.3 809.9L898.5 813.9L899.8 813.4L901.0 809.5L902.2 816.2L903.4 817.0L904.6 810.6L905.9 816.5L907.1 812.9L908.3 812.4L909.5 816.1L910.8 813.3L912.0 813.5L913.2 816.1L914.4 815.6L915.6 814.8L916.9 809.7L918.1 809.3L919.3 815.3L920.5 810.8L921.7 813.1L923.0 810.5L924.2 812.4L925.4 810.0L926.6 816.4L927.8 810.6L929.1 812.6L930.3 812.4L931.5 815.5L932.7 809.7L934.0 812.8L935.2 812.4L936.4 814.0L937.6 813.9L938.8 811.8L940.1 813.3L941.3 811.9L942.5 813.7L943.7 812.2L944.9 810.3L946.2 809.8L947.4 807.9L948.6 810.9L949.8 806.9L951.0 811.3L952.3 815.2L953.5 807.9L954.7 808.7L955.9 809.8L957.2 811.6L958.4 813.7L959.6 803.0L960.8 808.7L962.0 810.8L963.3 807.0L964.5 807.6L965.7 815.0L966.9 813.2L968.1 810.0L969.4 815.3L970.6 809.5L971.8 815.3L973.0 816.0L974.2 811.2L975.5 810.4L976.7 814.7L977.9 810.4L979.1 814.7L980.3 810.2L981.6 814.6L982.8 813.0L984.0 811.9L985.2 810.8L986.5 813.3L987.7 808.6L988.9 812.1L990.1 811.8L991.3 814.2L992.6 809.9L993.8 816.4L995.0 811.9L996.2 810.0L997.4 815.5L998.7 816.1L999.9 811.9L1001.1 810.3L1002.3 812.2L1003.5 810.5L1004.8 811.2L1006.0 815.1L1007.2 812.4L1008.4 811.6L1009.7 811.7L1010.9 810.4L1012.1 811.8L1013.3 811.1L1014.5 807.4L1015.8 806.9L1017.0 809.8L1018.2 801.7L1019.4 793.8L1020.6 785.5L1021.9 748.7L1023.1 648.6L1024.3 482.4L1025.5 649.8L1026.7 752.4L1028.0 797.7L1029.2 818.0L1030.4 815.2L1031.6 808.1L1032.9 806.0L1034.1 810.7L1035.3 807.6L1036.5 808.6L1037.7 814.9L1039.0 809.6L1040.2 814.4L1041.4 814.3L1042.6 811.3L1043.8 808.7L1045.1 812.9L1046.3 813.5L1047.5 814.3L1048.7 812.4L1049.9 814.9L1051.2 815.4L1052.4 810.1L1053.6 815.6L1054.8 812.8L1056.1 811.3L1057.3 811.8L1058.5 816.7L1059.7 814.7L1060.9 808.7L1062.2 812.8L1063.4 812.3L1064.6 812.3L1065.8 811.5L1067.0 809.5L1068.3 814.6L1069.5 810.6L1070.7 811.9L1071.9 811.4L1073.1 811.1L1074.4 814.3L1075.6 813.5L1076.8 811.2L1078.0 810.6L1079.3 811.6L1080.5 814.8L1081.7 812.9L1082.9 813.1L1084.1 811.9L1085.4 812.0L1086.6 813.0L1087.8 808.5L1089.0 816.0L1090.2 810.7L1091.5 811.1L1092.7 815.2L1093.9 812.7L1095.1 812.1L1096.3 810.5L1097.6 808.0L1098.8 811.3L1099.9 812.6L1101.1 805.9L1102.3 806.3L1103.4 793.2L1104.6 788.7L1105.9 795.8L1107.2 803.1L1108.4 809.2L1109.7 808.2L1111.0 808.6L1112.2 807.2L1113.4 809.0L1114.7 809.5L1115.9 808.9L1117.1 812.9L1118.3 810.8L1119.5 807.9L1120.8 817.8L1122.0 810.5L1123.2 809.6L1124.4 815.0L1125.6 814.7L1126.9 808.3L1128.1 802.7L1129.3 802.1L1130.5 812.1L1131.8 811.3L1133.0 810.6L1134.2 812.4L1135.4 815.1L1136.6 809.4L1137.9 811.7L1139.1 809.5L1140.3 817.3L1141.5 816.5L1142.7 814.5L1144.0 812.1L1145.2 813.7L1146.4 807.4L1147.6 811.6L1148.8 805.4L1150.1 801.0L1151.3 800.1L1152.5 803.8L1153.7 810.1L1155.0 812.8L1156.2 812.6L1157.4 810.2L1158.6 813.9L1159.8 812.2L1161.1 815.1L1162.3 810.5L1163.5 806.8L1164.7 811.5L1165.9 817.2L1167.2 813.5L1168.4 812.0L1169.6 814.4L1170.8 813.4L1172.0 812.7L1173.3 808.3L1174.5 806.1L1175.7 807.4L1176.9 809.0L1178.2 809.6L1179.4 812.7L1180.6 814.6L1181.8 813.9L1183.0 813.6L1184.3 813.6L1185.5 818.2L1186.7 813.1L1187.9 814.8L1189.1 816.8L1190.4 812.6L1191.6 813.1L1192.8 814.8L1194.0 816.2L1195.2 813.2L1196.5 813.3L1197.7 812.7L1198.9 809.8L1200.1 814.9L1201.4 811.9L1202.6 808.7L1203.8 812.1L1205.0 808.6L1206.2 810.1L1207.5 812.3L1208.7 809.5L1209.9 810.8L1211.1 802.2L1212.3 809.8L1213.6 812.8L1214.8 814.4L1216.0 810.0L1217.2 806.1L1218.4 809.8L1219.7 811.7L1220.9 814.8L1222.1 810.9L1223.3 813.5L1224.5 812.2L1225.8 813.0L1227.0 811.9L1228.2 817.1L1229.4 811.0L1230.7 813.0L1231.9 813.1L1233.1 813.8L1234.3 813.4L1235.5 813.4L1236.8 814.6L1238.0 809.1L1239.2 812.5L1240.4 809.7L1241.6 812.9L1242.9 809.8L1244.1 810.3L1245.3 812.3L1246.5 815.5L1247.7 813.7L1249.0 813.1L1250.2 815.5L1251.4 810.3L1252.6 807.8L1253.9 811.5L1255.1 811.8L1256.3 815.1L1257.5 817.1L1258.7 809.4L1260.0 817.8L1261.2 815.8L1262.4 814.2L1263.6 813.1L1264.8 817.6L1266.1 812.3L1267.3 810.7L1268.5 809.6L1269.7 801.6L1270.9 808.1L1272.2 810.8L1273.4 812.8L1274.6 813.0L1275.8 809.9L1277.1 815.2L1278.3 810.1L1279.5 814.2L1280.7 808.8L1281.9 813.1L1283.2 810.5L1284.4 812.4L1285.6 810.9L1286.8 807.5L1288.0 809.8L1289.3 812.4L1290.5 813.7L1291.7 809.1L1292.9 807.6L1294.1 810.4L1295.4 811.8L1296.6 810.9L1297.8 810.5L1299.0 814.1L1300.3 814.4L1301.5 813.9L1302.7 810.2L1303.9 812.4L1305.1 811.8L1306.4 809.1L1307.6 814.2L1308.8 812.4L1310.0 811.1L1311.2 815.3L1312.5 813.9L1313.7 814.0L1314.9 814.8L1316.1 813.7L1317.3 809.3L1318.6 811.1L1319.8 813.8L1321.0 808.2L1322.2 805.4L1323.5 803.2L1324.7 809.8L1325.9 813.4L1327.1 813.7L1328.3 811.5L1329.6 814.0L1330.8 813.2L1332.0 811.7L1333.2 815.1L1334.4 813.2L1335.7 810.5L1336.9 814.9L1338.1 811.6L1339.3 813.4L1340.5 808.8L1341.8 812.1L1343.0 810.0L1344.2 810.0L1345.4 807.9L1346.6 816.8L1347.9 811.8L1349.1 812.6L1350.3 814.5L1351.5 811.8L1352.8 813.2L1354.0 809.1L1355.2 812.5L1356.4 811.2L1357.6 813.2L1358.9 812.5L1360.1 809.0L1361.3 808.0L1362.5 809.8L1363.7 813.7L1365.0 813.0L1366.2 812.9L1367.4 807.6L1368.6 806.3L1369.8 810.7L1371.1 811.3L1372.3 810.7L1373.5 812.8L1374.7 811.7L1376.0 809.4L1377.2 810.1L1378.4 812.3L1379.6 812.2L1380.8 811.8L1382.1 817.0L1383.3 811.4L1384.5 812.3" fill="none" stroke="#FF8000" stroke-width="7.0" stroke-linejoin="round" stroke-linecap="butt" />
</g>
<g id="panel-b-curves">
<path d="M1508.5 1612.8L1518.8 1614.9L1526.1 1609.6L1533.4 1612.4L1540.7 1611.7L1548.5 1611.3L1555.8 1612.1L1563.7 1612.1L1571.0 1608.2L1578.3 1610.1L1585.7 1609.2L1593.4 1611.3L1600.7 1610.3L1608.2 1609.2L1615.5 1610.7L1623.3 1615.9L1630.6 1613.4L1637.5 1610.7L1645.2 1612.4L1652.5 1611.3L1659.8 1613.2L1667.1 1608.0L1674.4 1610.1L1681.8 1612.1L1689.1 1610.7L1696.4 1611.7L1704.3 1604.4L1711.0 1612.4L1719.4 1612.4L1726.7 1611.7L1734.0 1613.2L1741.3 1609.6L1749.7 1609.6L1757.0 1610.3L1763.6 1612.8L1771.0 1605.5L1778.9 1611.7L1786.2 1610.7L1793.5 1610.7L1800.8 1610.7L1808.1 1608.6L1815.5 1613.4L1822.8 1612.8L1830.1 1609.6L1837.4 1613.4L1844.7 1609.6L1852.0 1611.7L1859.7 1605.5L1867.1 1609.6L1874.4 1612.8L1881.7 1612.8L1889.0 1608.6L1896.3 1610.1L1904.2 1610.1L1911.6 1609.6L1918.9 1614.2L1926.2 1612.8L1933.5 1611.7L1940.8 1608.6L1949.2 1608.6L1956.3 1609.0L1963.6 1610.3L1970.9 1610.7L1978.2 1610.3L1985.5 1608.0L1992.8 1614.2L2000.1 1610.3L2007.5 1607.1L2014.8 1607.5L2022.5 1611.7L2030.0 1611.1L2037.7 1610.7L2045.1 1608.6L2052.4 1612.8L2059.7 1608.6L2067.0 1610.7L2074.7 1607.5L2082.2 1608.6L2089.6 1611.1L2096.2 1610.3L2104.0 1612.8L2110.9 1607.1L2119.2 1613.8L2127.2 1609.6L2133.8 1610.1L2141.2 1609.6L2148.5 1608.6L2155.8 1611.3L2163.1 1613.8L2170.4 1608.6L2177.7 1613.4L2185.7 1610.7L2192.8 1613.8L2200.7 1611.7L2208.0 1607.1L2215.3 1614.9L2221.6 1610.7L2229.9 1611.1L2237.9 1609.6L2244.6 1609.0L2252.3 1605.5L2260.2 1613.4L2267.5 1611.7L2274.9 1611.1L2282.2 1612.8L2289.5 1603.4L2296.8 1613.4L2304.1 1608.6L2311.4 1607.5L2319.4 1606.9L2326.7 1608.6L2334.0 1609.2L2341.1 1612.8L2348.6 1608.6L2356.3 1609.2L2363.6 1613.4L2371.0 1614.9L2378.3 1609.6L2385.6 1610.3L2392.9 1611.1L2396.5 1610.7" fill="none" stroke="#FF0000" stroke-width="7.0" stroke-linejoin="round" stroke-linecap="butt" />
<path d="M1508.5 1397.6L1518.8 1396.5L1526.1 1392.4L1533.4 1393.4L1540.7 1393.4L1548.5 1394.5L1555.8 1391.3L1563.7 1398.6L1571.0 1394.0L1578.3 1394.0L1585.7 1394.0L1593.4 1395.1L1600.7 1391.3L1608.2 1390.3L1615.5 1392.4L1622.8 1399.1L1630.6 1391.7L1637.5 1390.3L1645.2 1391.3L1652.5 1390.7L1659.8 1390.3L1667.1 1392.4L1674.4 1377.7L1681.8 1348.5L1689.1 1346.0L1696.4 1342.6L1704.3 1324.5L1712.0 1333.9L1719.4 1344.7L1726.7 1352.7L1734.0 1378.8L1741.3 1383.6L1749.7 1380.3L1757.0 1385.1L1764.3 1389.9L1771.6 1390.7L1778.9 1393.4L1786.2 1394.0L1793.5 1394.5L1800.8 1394.0L1808.1 1394.5L1815.5 1395.1L1822.8 1390.3L1830.1 1393.4L1837.4 1395.1L1844.7 1395.1L1852.0 1395.1L1859.7 1391.3L1867.1 1395.1L1874.4 1395.1L1881.7 1395.1L1889.0 1390.3L1896.3 1392.4L1904.2 1391.3L1911.1 1396.5L1918.9 1390.3L1926.2 1394.5L1933.5 1390.7L1940.8 1393.0L1949.2 1392.4L1956.3 1394.0L1963.6 1394.0L1970.9 1394.0L1978.2 1391.9L1985.5 1392.8L1992.8 1398.6L2000.1 1393.8L2007.5 1393.8L2014.8 1394.5L2022.5 1394.5L2030.0 1394.5L2037.7 1391.3L2045.1 1391.3L2052.4 1391.3L2059.7 1394.5L2067.0 1393.8L2074.7 1391.7L2082.2 1399.7L2089.6 1393.0L2096.2 1391.3L2104.0 1391.3L2111.9 1391.9L2119.2 1392.4L2127.2 1397.6L2133.8 1393.8L2141.2 1393.8L2148.9 1399.7L2155.8 1397.6L2163.1 1397.2L2171.4 1393.8L2178.8 1396.1L2185.7 1399.7L2192.8 1395.1L2200.7 1394.5L2208.4 1394.5L2215.3 1393.8L2221.6 1399.7L2229.9 1397.6L2237.9 1381.3L2244.6 1390.3L2251.9 1392.4L2259.2 1390.9L2267.5 1392.4L2274.9 1392.4L2282.2 1391.7L2289.5 1389.9L2296.8 1380.5L2304.1 1389.2L2311.4 1381.5L2319.4 1372.5L2326.7 1380.9L2334.0 1396.5L2341.1 1394.9L2348.6 1394.9L2356.3 1393.8L2363.6 1393.8L2371.0 1394.5L2378.3 1393.8L2385.6 1395.9L2392.9 1394.5L2396.5 1394.5" fill="none" stroke="#000000" stroke-width="7.0" stroke-linejoin="round" stroke-linecap="butt" />
<path d="M1508.5 1183.2L1518.8 1183.2L1526.1 1181.8L1533.4 1183.2L1540.7 1182.8L1548.5 1185.9L1555.4 1183.8L1562.7 1180.1L1571.0 1177.6L1578.3 1178.6L1585.7 1184.3L1593.4 1176.9L1600.7 1180.7L1608.2 1177.2L1615.9 1181.8L1623.3 1184.9L1630.6 1181.8L1636.8 1177.6L1644.1 1168.8L1652.5 1175.5L1658.8 1165.0L1666.1 1147.3L1673.4 1135.8L1681.3 1123.3L1688.6 1117.0L1697.4 1126.0L1703.7 1095.1L1712.0 1092.5L1718.9 1127.4L1726.7 1161.9L1734.0 1163.0L1741.3 1165.0L1748.6 1171.3L1755.9 1171.7L1763.6 1181.1L1770.5 1181.3L1777.9 1177.6L1785.8 1187.0L1793.5 1181.8L1800.8 1181.8L1808.1 1179.7L1815.5 1176.9L1822.8 1178.0L1830.1 1181.8L1837.4 1180.7L1844.7 1179.7L1852.0 1183.4L1859.3 1180.1L1866.6 1180.1L1874.0 1178.6L1881.3 1179.0L1888.6 1180.1L1896.3 1183.4L1904.2 1175.5L1911.6 1165.0L1918.9 1171.7L1926.2 1173.0L1934.1 1181.8L1940.8 1183.4L1949.2 1179.7L1956.3 1181.1L1963.6 1181.1L1970.9 1177.6L1978.2 1184.3L1985.5 1180.1L1992.8 1183.2L2000.1 1179.2L2007.5 1181.8L2014.8 1177.6L2022.5 1183.2L2030.0 1173.4L2037.7 1171.7L2045.1 1181.1L2052.4 1179.2L2059.7 1177.6L2067.0 1177.6L2074.7 1184.3L2081.6 1178.0L2089.6 1182.4L2096.2 1179.2L2104.0 1176.5L2111.9 1180.3L2119.2 1179.2L2126.5 1173.4L2133.8 1178.6L2141.2 1181.3L2148.5 1181.8L2155.8 1183.4L2163.1 1182.8L2170.4 1182.8L2177.7 1182.4L2185.7 1187.0L2192.8 1180.7L2200.7 1180.7L2208.4 1184.5L2215.3 1181.8L2222.6 1179.7L2229.9 1178.6L2237.3 1176.1L2244.6 1180.7L2251.9 1179.7L2259.2 1176.5L2267.5 1180.7L2274.9 1176.9L2282.2 1176.1L2289.5 1169.2L2296.8 1161.9L2304.5 1156.3L2311.4 1173.4L2319.4 1179.2L2326.7 1178.6L2333.4 1177.6L2341.1 1180.7L2348.6 1174.4L2356.3 1181.1L2363.6 1181.3L2371.0 1183.4L2377.2 1184.5L2385.6 1181.3L2392.9 1181.8L2396.5 1182.2" fill="none" stroke="#0000FF" stroke-width="7.0" stroke-linejoin="round" stroke-linecap="butt" />
<path d="M1508.5 938.5L1519.8 935.3L1533.4 938.5L1544.9 937.4L1555.4 937.4L1562.7 937.4L1570.6 939.1L1578.3 935.3L1585.7 938.5L1593.4 934.3L1600.7 934.9L1608.2 931.2L1618.0 938.9L1622.8 939.9L1630.6 938.5L1636.8 935.3L1646.2 938.0L1653.6 936.4L1660.4 930.5L1667.1 932.8L1674.4 929.5L1681.8 920.1L1689.1 917.6L1696.4 904.0L1702.6 875.8L1711.0 864.3L1718.9 855.3L1726.7 857.0L1734.0 864.3L1741.3 867.0L1749.7 876.2L1755.9 903.0L1764.3 914.4L1776.8 923.4L1786.2 932.2L1793.5 931.2L1800.8 933.9L1808.1 934.3L1815.5 931.8L1822.8 931.2L1830.1 938.5L1840.5 938.0L1853.1 939.5L1863.5 939.5L1874.0 939.5L1882.3 937.4L1889.6 937.4L1896.9 940.6L1904.2 937.4L1911.1 938.9L1917.8 935.3L1926.2 931.2L1934.1 922.8L1940.8 931.2L1949.2 931.2L1956.3 932.2L1963.6 930.7L1970.9 933.7L1978.2 933.2L1985.5 928.0L1992.8 933.9L2000.1 937.4L2007.5 936.4L2014.8 936.4L2022.1 939.1L2029.4 936.4L2036.7 934.3L2044.0 934.3L2051.3 936.4L2058.6 936.0L2065.9 926.6L2074.3 928.0L2081.6 934.3L2088.9 931.6L2096.2 934.3L2103.6 932.6L2110.9 930.5L2118.8 933.9L2126.5 936.4L2133.8 934.3L2141.2 935.8L2148.5 936.8L2155.8 937.4L2163.1 938.9L2171.4 936.8L2178.8 939.1L2185.0 940.6L2192.3 941.6L2199.7 939.1L2207.0 937.4L2214.3 939.5L2221.6 940.1L2229.9 936.4L2237.3 940.6L2244.6 935.3L2252.9 935.3L2261.3 935.3L2267.5 933.2L2274.9 926.6L2282.2 927.0L2289.5 929.7L2296.8 934.3L2304.1 933.9L2311.4 925.9L2318.7 924.5L2327.1 920.1L2334.4 922.4L2341.7 927.6L2349.0 926.6L2356.3 931.2L2363.6 932.2L2371.0 935.3L2378.3 936.0L2385.6 938.5L2392.9 938.0L2396.5 935.3" fill="none" stroke="#008000" stroke-width="7.0" stroke-linejoin="round" stroke-linecap="butt" />
<path d="M1508.5 713.2L1519.8 712.2L1526.1 710.5L1533.4 706.5L1541.4 713.2L1548.5 706.3L1555.4 709.0L1562.7 709.7L1571.4 714.3L1578.3 707.6L1584.6 707.6L1593.6 710.1L1601.3 706.3L1607.6 706.5L1615.9 713.6L1623.3 707.6L1630.6 705.5L1637.9 706.3L1644.1 700.3L1653.6 704.4L1667.1 691.3L1674.4 676.7L1681.8 647.4L1687.0 601.4L1691.2 547.1L1695.3 488.6L1699.5 434.3L1704.7 393.6L1711.0 421.8L1716.2 467.7L1721.4 513.7L1726.7 551.3L1734.0 580.6L1742.3 616.1L1749.7 649.5L1755.9 678.3L1764.3 678.3L1770.5 687.1L1777.9 702.8L1785.2 697.1L1792.5 697.1L1800.8 704.2L1808.1 706.3L1816.5 704.2L1822.8 704.4L1830.1 709.0L1837.4 700.3L1844.7 706.9L1852.0 708.4L1860.4 705.5L1867.3 703.4L1874.4 710.5L1881.7 702.8L1889.0 712.2L1896.3 708.4L1904.2 703.4L1911.6 705.5L1918.9 702.8L1926.2 699.2L1933.5 697.1L1940.8 686.7L1947.1 680.2L1956.3 691.7L1963.6 695.5L1970.9 705.9L1978.2 703.4L1985.5 708.4L1992.8 700.1L2000.1 704.9L2007.5 707.6L2014.8 708.4L2022.1 697.5L2030.0 707.6L2037.7 702.8L2045.1 700.1L2052.4 697.1L2059.7 702.8L2067.0 703.4L2074.3 690.7L2081.6 704.9L2088.9 701.7L2096.2 697.1L2103.6 701.7L2110.9 707.6L2118.8 703.4L2126.5 707.6L2133.8 707.6L2141.2 706.9L2148.5 704.9L2155.8 712.2L2163.1 710.5L2171.4 710.1L2179.8 710.1L2188.2 710.1L2196.5 710.7L2207.0 711.8L2215.3 708.0L2222.6 709.5L2229.9 708.4L2237.3 709.0L2244.6 703.8L2251.9 708.0L2259.2 704.9L2266.5 697.5L2273.8 696.9L2281.1 698.0L2289.5 705.9L2296.8 680.8L2304.1 669.3L2311.4 663.1L2319.4 668.7L2326.7 656.8L2334.0 680.8L2340.7 689.8L2349.0 692.7L2356.3 706.9L2363.6 704.9L2371.0 707.6L2378.3 707.6L2385.6 706.5L2392.9 708.0L2396.5 708.4" fill="none" stroke="#FF8000" stroke-width="7.0" stroke-linejoin="round" stroke-linecap="butt" />
</g>
<path id="zoom-box" d="M590.5 69.2V52H607.1M627.25 52.00L643.85 52.00M664.00 52.00L680.60 52.00M700.75 52.00L717.35 52.00M737.50 52.00L754.10 52.00M774.25 52.00L778.50 64.35M778.50 84.20L778.50 101.40M778.50 120.95L778.50 138.15M778.50 157.70L778.50 174.90M778.50 194.45L778.50 211.65M778.50 231.20L778.50 248.40M778.50 267.95L778.50 285.15M778.50 304.70L778.50 321.90M778.50 341.45L778.50 358.65M778.50 378.20L778.50 395.40M778.50 414.95L778.50 432.15M778.50 451.70L778.50 468.90M778.50 488.45L778.50 505.65M778.50 525.20L778.50 542.40M778.50 561.95L778.50 579.15M778.50 598.70L778.50 615.90M778.50 635.45L778.50 652.65M778.50 672.20L778.50 689.40M778.50 708.95L778.50 726.15M778.50 745.70L778.50 762.90M778.50 782.45L778.50 799.65M778.50 819.20L778.50 836.40M778.50 855.95L778.50 873.15M778.50 892.70L778.50 909.90M778.50 929.45L778.50 946.65M778.50 966.20L778.50 983.40M778.50 1002.95L778.50 1020.15M778.50 1039.70L778.50 1056.90M778.50 1076.45L778.50 1093.65M778.50 1113.20L778.50 1130.40M778.50 1149.95L778.50 1167.15M778.50 1186.70L778.50 1203.90M778.50 1223.45L778.50 1240.65M778.50 1260.20L778.50 1277.40M778.50 1296.95L778.50 1314.15M778.50 1333.70L778.50 1350.90M778.50 1370.45L778.50 1387.65M778.50 1407.20L778.50 1424.40M778.50 1443.95L778.50 1461.15M778.50 1480.70L778.50 1497.90M778.50 1517.45L778.50 1534.65M778.50 1554.20L778.50 1571.40M778.50 1590.95L778.50 1608.15M778.50 1627.70L778.50 1644.90M778.50 1664.45L778.50 1681.65M774.80 1697.80L758.20 1697.80M738.05 1697.80L721.45 1697.80M701.30 1697.80L684.70 1697.80M664.55 1697.80L647.95 1697.80M627.80 1697.80L611.20 1697.80M590.50 88.15L590.50 105.95M590.50 124.90L590.50 142.70M590.50 161.65L590.50 179.45M590.50 198.40L590.50 216.20M590.50 235.15L590.50 252.95M590.50 271.90L590.50 289.70M590.50 308.65L590.50 326.45M590.50 345.40L590.50 363.20M590.50 382.15L590.50 399.95M590.50 418.90L590.50 436.70M590.50 455.65L590.50 473.45M590.50 492.40L590.50 510.20M590.50 529.15L590.50 546.95M590.50 565.90L590.50 583.70M590.50 602.65L590.50 620.45M590.50 639.40L590.50 657.20M590.50 676.15L590.50 693.95M590.50 712.90L590.50 730.70M590.50 749.65L590.50 767.45M590.50 786.40L590.50 804.20M590.50 823.15L590.50 840.95M590.50 859.90L590.50 877.70M590.50 896.65L590.50 914.45M590.50 933.40L590.50 951.20M590.50 970.15L590.50 987.95M590.50 1006.90L590.50 1024.70M590.50 1043.65L590.50 1061.45M590.50 1080.40L590.50 1098.20M590.50 1117.15L590.50 1134.95M590.50 1153.90L590.50 1171.70M590.50 1190.65L590.50 1208.45M590.50 1227.40L590.50 1245.20M590.50 1264.15L590.50 1281.95M590.50 1300.90L590.50 1318.70M590.50 1337.65L590.50 1355.45M590.50 1374.40L590.50 1392.20M590.50 1411.15L590.50 1428.95M590.50 1447.90L590.50 1465.70M590.50 1484.65L590.50 1502.45M590.50 1521.40L590.50 1539.20M590.50 1558.15L590.50 1575.95M590.50 1594.90L590.50 1612.70M590.50 1631.65L590.50 1649.45M590.50 1668.40L590.50 1686.20" fill="none" stroke="#000" stroke-width="5.2" stroke-linecap="round" stroke-linejoin="miter"/>
<g id="frames" fill="none" stroke="#000" stroke-width="7" stroke-linejoin="miter">
<rect x="163.5" y="32.5" width="1221.0" height="1679.0"/>
<rect x="1508.5" y="51.5" width="888.0" height="1679.0"/>
</g>
<g id="ticks" stroke="#000" stroke-width="7" stroke-linecap="round">
<line x1="285.60" y1="1711.5" x2="285.60" y2="1740.5"/>
<line x1="529.80" y1="1711.5" x2="529.80" y2="1740.5"/>
<line x1="774.00" y1="1711.5" x2="774.00" y2="1740.5"/>
<line x1="1018.20" y1="1711.5" x2="1018.20" y2="1740.5"/>
<line x1="1262.40" y1="1711.5" x2="1262.40" y2="1740.5"/>
<line x1="1656.50" y1="1730.5" x2="1656.50" y2="1759"/>
<line x1="1804.50" y1="1730.5" x2="1804.50" y2="1759"/>
<line x1="1952.50" y1="1730.5" x2="1952.50" y2="1759"/>
<line x1="2100.50" y1="1730.5" x2="2100.50" y2="1759"/>
<line x1="2248.50" y1="1730.5" x2="2248.50" y2="1759"/>
</g>
<g id="ticklabels" font-size="58.6" text-anchor="middle">
<text x="285.10" y="1807.2">20</text>
<text x="529.30" y="1807.2">30</text>
<text x="773.50" y="1807.2">40</text>
<text x="1017.70" y="1807.2">50</text>
<text x="1261.90" y="1807.2">60</text>
<text x="1657.00" y="1826">34</text>
<text x="1805.00" y="1826">35</text>
<text x="1953.00" y="1826">36</text>
<text x="2101.00" y="1826">37</text>
<text x="2249.00" y="1826">38</text>
</g>
<g id="xtitle-a">
<text transform="translate(661.22,1921.10) scale(1.0177,0.9999)" font-size="74.29">2</text>
<text class="s" transform="translate(702.51,1921.14) scale(1.1111,1.0001)" font-size="65.77">θ</text>
<text transform="translate(758.37,1920.12) scale(0.9063,1.0001)" font-size="70.37">(</text>
<text transform="translate(782.70,1916.72) scale(0.9531,1.0000)" font-size="69.74">º</text>
<text transform="translate(808.72,1921.53) scale(0.9074,1.0000)" font-size="76.62">C</text>
<text transform="translate(862.35,1920.12) scale(0.9292,1.0001)" font-size="70.37">)</text>
</g>
<g id="xtitle-b">
<text transform="translate(1842.25,1940.00) scale(1.0069,1.0000)" font-size="74.43">2</text>
<text class="s" transform="translate(1882.51,1940.14) scale(1.1086,0.9999)" font-size="65.92">θ</text>
<text transform="translate(1935.32,1938.92) scale(0.8955,1.0001)" font-size="70.37">(</text>
<text transform="translate(1959.70,1935.62) scale(0.9531,1.0000)" font-size="69.74">º</text>
<text transform="translate(1985.42,1940.43) scale(0.9074,1.0000)" font-size="76.62">C</text>
<text transform="translate(2039.45,1938.92) scale(0.9292,1.0001)" font-size="70.37">)</text>
</g>
<text transform="translate(84.1,1147.8) rotate(-90) scale(1,1.03)" font-size="72">Intensity (a.u.)</text>
<text font-weight="700" transform="translate(1293.57,135.06) scale(0.9272,1.0000)" font-size="83.64">a</text>
<text font-weight="700" transform="translate(2295.33,165.06) scale(1.0181,1.0000)" font-size="84.22">b</text>
<g id="clabels">
<text font-weight="700" transform="translate(1340.49,803.20) scale(0.9281,0.9999)" font-size="66.23">v</text>
<text font-weight="700" transform="translate(1327.23,1002.80) scale(0.9280,1.0000)" font-size="65.79">iv</text>
<text font-weight="700" transform="translate(1326.56,1214.90) scale(0.9465,1.0000)" font-size="65.52">iii</text>
<text font-weight="700" transform="translate(1344.46,1402.70) scale(0.9672,1.0000)" font-size="65.52">ii</text>
<text font-weight="700" transform="translate(1353.18,1597.90) scale(1.0288,1.0000)" font-size="65.52">i</text>
<text font-weight="700" transform="translate(2353.49,672.10) scale(0.9389,1.0000)" font-size="65.47">v</text>
<text font-weight="700" transform="translate(2336.41,909.60) scale(0.9499,1.0000)" font-size="64.55">iv</text>
<text font-weight="700" transform="translate(2337.56,1167.00) scale(0.9348,1.0001)" font-size="66.34">iii</text>
<text font-weight="700" transform="translate(2353.41,1368.80) scale(1.0003,1.0000)" font-size="65.52">ii</text>
<text font-weight="700" transform="translate(2362.53,1598.60) scale(1.0175,1.0000)" font-size="65.52">i</text>
</g>
<g id="legend">
<text transform="translate(240.35,111.45) scale(0.9786,0.9999)" font-size="60.14">Substrate</text>
<text transform="translate(240.06,184.58) scale(0.9493,1.0000)" font-size="61.97">CuO</text>
<text transform="translate(239.02,256.98) scale(0.9561,1.0000)" font-size="61.97">ZnO</text>
<text transform="translate(240.06,328.51) scale(1.0041,1.0000)" font-size="58.5">Cu(OH)</text>
<text transform="translate(441.89,352.40) scale(1.0751,1.0000)" font-size="35.57">2</text>
</g>
<g id="markers">
<rect x="197.65" y="72.85" width="19.6" height="41.4" fill="none" stroke="#000" stroke-width="3.7"/>
<circle cx="206.6" cy="160.5" r="17.8" fill="#000"/>
<path d="M207.95 214.37L223.75 236.4L207.95 258.43L192.15 236.4Z" fill="none" stroke="#000" stroke-width="3.0" stroke-linejoin="miter"/>
<path d="M205.5 284.63L224.78 318.55L186.22 318.55Z" fill="none" stroke="#000" stroke-width="2.7" stroke-linejoin="miter"/>
<path d="M212.55 591.73L231.78 625.55L193.32 625.55Z" fill="none" stroke="#000" stroke-width="2.7" stroke-linejoin="miter"/>
<path d="M385.45 527.30L404.61 560.55L366.29 560.55Z" fill="none" stroke="#000" stroke-width="2.7" stroke-linejoin="miter"/>
<path d="M637.5 359.02L656.67 392.55L618.33 392.55Z" fill="none" stroke="#000" stroke-width="2.7" stroke-linejoin="miter"/>
<path d="M1107.5 666.40L1126.66 699.65L1088.34 699.65Z" fill="none" stroke="#000" stroke-width="2.7" stroke-linejoin="miter"/>
<path d="M656.05 449.53L672.24 471.55L656.05 493.57L639.86 471.55Z" fill="none" stroke="#000" stroke-width="3.0" stroke-linejoin="miter"/>
<circle cx="679.5" cy="693.3" r="17.6" fill="#000"/>
<circle cx="739.3" cy="649.4" r="17.6" fill="#000"/>
<rect x="841.90" y="243.90" width="19.2" height="41.1" fill="none" stroke="#000" stroke-width="3.8"/>
<rect x="1013.90" y="441.85" width="19.2" height="41.1" fill="none" stroke="#000" stroke-width="3.8"/>
<path d="M211.7 626.30V639.70M211.7 648.60V662.00M211.7 670.90V684.30" fill="none" stroke="#000" stroke-width="3.3"/>
<path d="M635.1 396.60V406.60M635.1 418.70V428.70M635.1 440.80V450.80M635.1 462.90V472.90M635.1 485.00V495.00M635.1 507.10V517.10M635.1 529.20V539.20" fill="none" stroke="#000" stroke-width="4.0" stroke-linecap="round"/>
<path d="M644.4 496.00V509.40M644.4 518.25V531.65M644.4 540.50V553.90M644.4 562.75V576.15M644.4 585.00V598.40M644.4 607.25V620.65M644.4 629.50V642.90" fill="none" stroke="#000" stroke-width="3.3"/>
<path d="M678.8 713.95V723.55M678.8 736.55V746.15M678.8 759.15V768.75" fill="none" stroke="#000" stroke-width="4.1" stroke-linecap="round"/>
<path d="M737.0 671.15V680.65M737.0 693.40V702.90M737.0 715.65V725.15M737.0 737.90V747.40M737.0 760.15V769.65" fill="none" stroke="#000" stroke-width="4.1" stroke-linecap="round"/>
<path d="M1107.6 701.20V714.40M1107.6 723.80V737.00M1107.6 746.40V759.60" fill="none" stroke="#000" stroke-width="3.1"/>
<path d="M1711.5 281.54L1730.10 314.30L1692.90 314.30Z" fill="none" stroke="#000" stroke-width="3.2" stroke-linejoin="miter"/>
<path d="M1745.0 391.91L1760.57 413.3L1745.0 434.69L1729.43 413.3Z" fill="none" stroke="#000" stroke-width="3.6" stroke-linejoin="miter"/>
<circle cx="1959.5" cy="585.6" r="17.6" fill="#000"/>
<circle cx="2339.6" cy="545.6" r="17.6" fill="#000"/>
<path d="M1709.6 319.00V332.50M1709.6 341.50V355.00M1709.6 364.00V377.50" fill="none" stroke="#000" stroke-width="3.3"/>
<path d="M1736.1 457.80V466.00M1736.1 480.06V488.26M1736.1 502.32V510.52M1736.1 524.58V532.78M1736.1 546.84V555.04M1736.1 569.10V577.30M1736.1 591.36V599.56M1736.1 613.62V621.82M1736.1 635.88V644.08M1736.1 658.14V666.34M1736.1 680.40V688.60M1736.1 702.66V710.86M1736.1 724.92V733.12M1736.1 747.18V755.38M1736.1 769.44V777.64M1736.1 791.70V799.90M1736.1 813.96V822.16M1736.1 836.22V844.42" fill="none" stroke="#000" stroke-width="4.4" stroke-linecap="round"/>
<path d="M1954.0 605.95V615.85M1954.0 628.00V637.90M1954.0 650.05V659.95" fill="none" stroke="#000" stroke-width="4.1" stroke-linecap="round"/>
<path d="M2332.0 582.85V592.75M2332.0 604.95V614.85M2332.0 627.05V636.95" fill="none" stroke="#000" stroke-width="4.1" stroke-linecap="round"/>
</g>
</svg>
</body>
</html>
